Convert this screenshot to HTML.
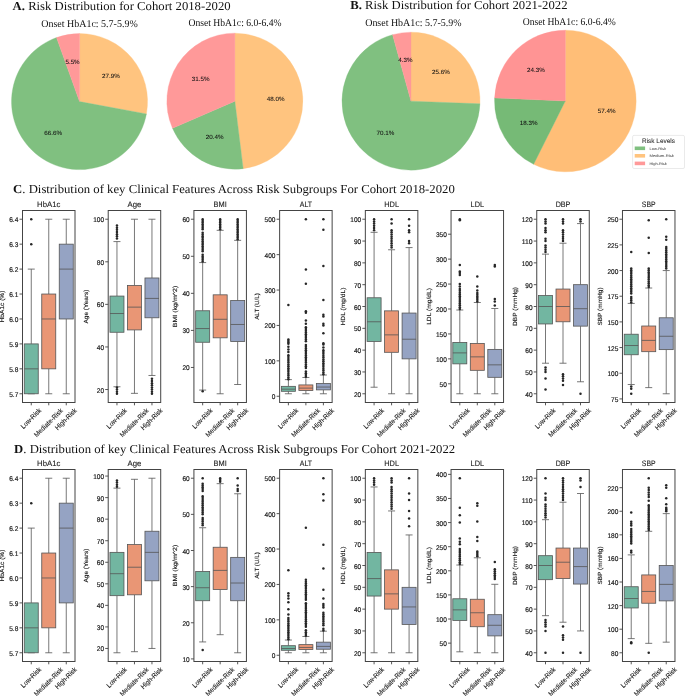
<!DOCTYPE html>
<html><head><meta charset="utf-8"><style>
html,body{margin:0;padding:0;background:#fff;width:685px;height:696px;overflow:hidden}
svg{display:block;will-change:transform}
text{font-family:"Liberation Sans",sans-serif;text-rendering:geometricPrecision}
</style></head><body>
<svg width="685" height="696" viewBox="0 0 685 696">
<rect width="685" height="696" fill="#fff"/>
<text x="12.6" y="9.9" style="font-family:&quot;Liberation Serif&quot;,serif" font-size="12.2" fill="#111" textLength="218.00" lengthAdjust="spacingAndGlyphs"><tspan font-weight="bold">A.</tspan> Risk Distribution for Cohort 2018-2020</text>
<text x="350.3" y="9.2" style="font-family:&quot;Liberation Serif&quot;,serif" font-size="12.2" fill="#111" textLength="217.20" lengthAdjust="spacingAndGlyphs"><tspan font-weight="bold">B.</tspan> Risk Distribution for Cohort 2021-2022</text>
<text x="13.1" y="192.7" style="font-family:&quot;Liberation Serif&quot;,serif" font-size="12.2" fill="#111" textLength="441.70" lengthAdjust="spacingAndGlyphs"><tspan font-weight="bold">C</tspan>. Distribution of key Clinical Features Across Risk Subgroups For Cohort 2018-2020</text>
<text x="14.1" y="453.3" style="font-family:&quot;Liberation Serif&quot;,serif" font-size="12.2" fill="#111" textLength="441.00" lengthAdjust="spacingAndGlyphs"><tspan font-weight="bold">D</tspan>. Distribution of key Clinical Features Across Risk Subgroups For Cohort 2021-2022</text>
<text x="41.3" y="26.5" style="font-family:&quot;Liberation Serif&quot;,serif" font-size="10.3" fill="#111" textLength="96.40" lengthAdjust="spacingAndGlyphs">Onset HbA1c: 5.7-5.9%</text>
<text x="188.5" y="26.3" style="font-family:&quot;Liberation Serif&quot;,serif" font-size="10.3" fill="#111" textLength="93.00" lengthAdjust="spacingAndGlyphs">Onset HbA1c: 6.0-6.4%</text>
<text x="365.2" y="25.6" style="font-family:&quot;Liberation Serif&quot;,serif" font-size="10.3" fill="#111" textLength="96.30" lengthAdjust="spacingAndGlyphs">Onset HbA1c: 5.7-5.9%</text>
<text x="522.7" y="24.6" style="font-family:&quot;Liberation Serif&quot;,serif" font-size="10.3" fill="#111" textLength="93.10" lengthAdjust="spacingAndGlyphs">Onset HbA1c: 6.0-6.4%</text>
<path d="M79.55,101.60 L79.55,33.60 A68.0,68.0 0 0 1 146.42,113.92 Z" fill="#ffc47f" stroke="#ffc47f" stroke-width="0.35" stroke-linejoin="round"/>
<text x="0" y="0" font-size="20.0" text-anchor="middle" fill="#111" stroke="#111" stroke-width="0.197" textLength="58.33" lengthAdjust="spacingAndGlyphs" transform="translate(110.91,77.89) scale(0.3050)" >27.9%</text>
<path d="M79.55,101.60 L146.42,113.92 A68.0,68.0 0 1 1 56.52,37.62 Z" fill="#80c080" stroke="#80c080" stroke-width="0.35" stroke-linejoin="round"/>
<text x="0" y="0" font-size="20.0" text-anchor="middle" fill="#111" stroke="#111" stroke-width="0.197" textLength="58.33" lengthAdjust="spacingAndGlyphs" transform="translate(53.15,135.11) scale(0.3050)" >66.6%</text>
<path d="M79.55,101.60 L56.52,37.62 A68.0,68.0 0 0 1 79.55,33.60 Z" fill="#ff9999" stroke="#ff9999" stroke-width="0.35" stroke-linejoin="round"/>
<text x="0" y="0" font-size="20.0" text-anchor="middle" fill="#111" stroke="#111" stroke-width="0.197" textLength="46.65" lengthAdjust="spacingAndGlyphs" transform="translate(72.54,63.81) scale(0.3050)" >5.5%</text>
<path d="M234.85,101.15 L234.85,33.15 A68.0,68.0 0 0 1 243.17,168.64 Z" fill="#ffc47f" stroke="#ffc47f" stroke-width="0.35" stroke-linejoin="round"/>
<text x="0" y="0" font-size="20.0" text-anchor="middle" fill="#111" stroke="#111" stroke-width="0.197" textLength="58.33" lengthAdjust="spacingAndGlyphs" transform="translate(275.57,100.65) scale(0.3050)" >48.0%</text>
<path d="M234.85,101.15 L243.17,168.64 A68.0,68.0 0 0 1 172.50,128.28 Z" fill="#80c080" stroke="#80c080" stroke-width="0.35" stroke-linejoin="round"/>
<text x="0" y="0" font-size="20.0" text-anchor="middle" fill="#111" stroke="#111" stroke-width="0.197" textLength="58.33" lengthAdjust="spacingAndGlyphs" transform="translate(214.62,138.58) scale(0.3050)" >20.4%</text>
<path d="M234.85,101.15 L172.50,128.28 A68.0,68.0 0 0 1 234.85,33.15 Z" fill="#ff9999" stroke="#ff9999" stroke-width="0.35" stroke-linejoin="round"/>
<text x="0" y="0" font-size="20.0" text-anchor="middle" fill="#111" stroke="#111" stroke-width="0.197" textLength="58.33" lengthAdjust="spacingAndGlyphs" transform="translate(200.73,80.78) scale(0.3050)" >31.5%</text>
<path d="M411.00,101.20 L411.00,32.20 A69.0,69.0 0 0 1 479.95,103.80 Z" fill="#ffc47f" stroke="#ffc47f" stroke-width="0.35" stroke-linejoin="round"/>
<text x="0" y="0" font-size="20.0" text-anchor="middle" fill="#111" stroke="#111" stroke-width="0.197" textLength="58.33" lengthAdjust="spacingAndGlyphs" transform="translate(440.82,74.28) scale(0.3050)" >25.6%</text>
<path d="M411.00,101.20 L479.95,103.80 A69.0,69.0 0 1 1 392.58,34.70 Z" fill="#80c080" stroke="#80c080" stroke-width="0.35" stroke-linejoin="round"/>
<text x="0" y="0" font-size="20.0" text-anchor="middle" fill="#111" stroke="#111" stroke-width="0.197" textLength="58.33" lengthAdjust="spacingAndGlyphs" transform="translate(385.32,135.47) scale(0.3050)" >70.1%</text>
<path d="M411.00,101.20 L392.58,34.70 A69.0,69.0 0 0 1 411.00,32.20 Z" fill="#ff9999" stroke="#ff9999" stroke-width="0.35" stroke-linejoin="round"/>
<text x="0" y="0" font-size="20.0" text-anchor="middle" fill="#111" stroke="#111" stroke-width="0.197" textLength="46.65" lengthAdjust="spacingAndGlyphs" transform="translate(405.42,61.98) scale(0.3050)" >4.3%</text>
<path d="M565.35,101.00 L565.35,30.20 A70.8,70.8 0 1 1 533.60,164.28 Z" fill="#ffbe77" stroke="#ffbe77" stroke-width="0.35" stroke-linejoin="round"/>
<text x="0" y="0" font-size="20.0" text-anchor="middle" fill="#111" stroke="#111" stroke-width="0.197" textLength="58.33" lengthAdjust="spacingAndGlyphs" transform="translate(606.69,112.79) scale(0.3050)" >57.4%</text>
<path d="M565.35,101.00 L533.60,164.28 A70.8,70.8 0 0 1 494.62,97.89 Z" fill="#76ba76" stroke="#76ba76" stroke-width="0.35" stroke-linejoin="round"/>
<text x="0" y="0" font-size="20.0" text-anchor="middle" fill="#111" stroke="#111" stroke-width="0.197" textLength="58.33" lengthAdjust="spacingAndGlyphs" transform="translate(528.72,124.51) scale(0.3050)" >18.3%</text>
<path d="M565.35,101.00 L494.62,97.89 A70.8,70.8 0 0 1 565.35,30.20 Z" fill="#ff9494" stroke="#ff9494" stroke-width="0.35" stroke-linejoin="round"/>
<text x="0" y="0" font-size="20.0" text-anchor="middle" fill="#111" stroke="#111" stroke-width="0.197" textLength="58.33" lengthAdjust="spacingAndGlyphs" transform="translate(535.98,72.31) scale(0.3050)" >24.3%</text>
<rect x="632.6" y="135.4" width="51.9" height="33.1" rx="1.5" fill="#fff" fill-opacity="0.8" stroke="#dcdcdc" stroke-width="0.6"/>
<text x="0" y="0" font-size="20.0" text-anchor="middle" fill="#222" stroke="#222" stroke-width="0.121" textLength="100.00" lengthAdjust="spacingAndGlyphs" transform="translate(658.50,142.80) scale(0.3300)" >Risk Levels</text>
<rect x="634.7" y="146.50" width="10.4" height="3.6" fill="#80c080"/>
<text x="0" y="0" font-size="20.0" text-anchor="start" fill="#333" stroke="#333" stroke-width="0.000" textLength="89.73" lengthAdjust="spacingAndGlyphs" transform="translate(649.40,149.60) scale(0.1850)" >Low-Risk</text>
<rect x="634.7" y="154.00" width="10.4" height="3.6" fill="#ffc47f"/>
<text x="0" y="0" font-size="20.0" text-anchor="start" fill="#333" stroke="#333" stroke-width="0.000" textLength="132.43" lengthAdjust="spacingAndGlyphs" transform="translate(649.40,157.10) scale(0.1850)" >Medium-Risk</text>
<rect x="634.7" y="161.60" width="10.4" height="3.6" fill="#ff9999"/>
<text x="0" y="0" font-size="20.0" text-anchor="start" fill="#333" stroke="#333" stroke-width="0.000" textLength="94.05" lengthAdjust="spacingAndGlyphs" transform="translate(649.40,164.70) scale(0.1850)" >High-Risk</text>
<g fill="#262626"><line x1="31.25" y1="343.90" x2="31.25" y2="269.10" stroke="#555555" stroke-width="0.8"/><line x1="31.25" y1="393.77" x2="31.25" y2="393.77" stroke="#555555" stroke-width="0.8"/><line x1="27.75" y1="269.10" x2="34.75" y2="269.10" stroke="#555555" stroke-width="0.8"/><line x1="27.75" y1="393.77" x2="34.75" y2="393.77" stroke="#555555" stroke-width="0.8"/><rect x="24.25" y="343.90" width="14.00" height="49.87" fill="#72b6a1" stroke="#555555" stroke-width="0.8"/><line x1="24.25" y1="368.84" x2="38.25" y2="368.84" stroke="#555555" stroke-width="0.8"/><circle cx="31.25" cy="244.16" r="1.25"/><circle cx="31.25" cy="219.23" r="1.25"/><line x1="48.75" y1="294.03" x2="48.75" y2="219.23" stroke="#555555" stroke-width="0.8"/><line x1="48.75" y1="368.84" x2="48.75" y2="393.77" stroke="#555555" stroke-width="0.8"/><line x1="45.25" y1="219.23" x2="52.25" y2="219.23" stroke="#555555" stroke-width="0.8"/><line x1="45.25" y1="393.77" x2="52.25" y2="393.77" stroke="#555555" stroke-width="0.8"/><rect x="41.75" y="294.03" width="14.00" height="74.81" fill="#e99675" stroke="#555555" stroke-width="0.8"/><line x1="41.75" y1="318.97" x2="55.75" y2="318.97" stroke="#555555" stroke-width="0.8"/><line x1="66.25" y1="244.16" x2="66.25" y2="219.23" stroke="#555555" stroke-width="0.8"/><line x1="66.25" y1="318.97" x2="66.25" y2="393.77" stroke="#555555" stroke-width="0.8"/><line x1="62.75" y1="219.23" x2="69.75" y2="219.23" stroke="#555555" stroke-width="0.8"/><line x1="62.75" y1="393.77" x2="69.75" y2="393.77" stroke="#555555" stroke-width="0.8"/><rect x="59.25" y="244.16" width="14.00" height="74.81" fill="#95a3c3" stroke="#555555" stroke-width="0.8"/><line x1="59.25" y1="269.10" x2="73.25" y2="269.10" stroke="#555555" stroke-width="0.8"/></g>
<rect x="22.50" y="210.50" width="52.50" height="192.00" fill="none" stroke="#444444" stroke-width="1.0"/>
<line x1="19.50" y1="393.77" x2="22.50" y2="393.77" stroke="#444444" stroke-width="0.9"/>
<text x="0" y="0" font-size="20.0" text-anchor="end" fill="#1a1a1a" stroke="#1a1a1a" stroke-width="0.522" textLength="26.28" lengthAdjust="spacingAndGlyphs" transform="translate(18.30,396.77) scale(0.3450)" >5.7</text>
<line x1="19.50" y1="368.84" x2="22.50" y2="368.84" stroke="#444444" stroke-width="0.9"/>
<text x="0" y="0" font-size="20.0" text-anchor="end" fill="#1a1a1a" stroke="#1a1a1a" stroke-width="0.522" textLength="26.28" lengthAdjust="spacingAndGlyphs" transform="translate(18.30,371.84) scale(0.3450)" >5.8</text>
<line x1="19.50" y1="343.90" x2="22.50" y2="343.90" stroke="#444444" stroke-width="0.9"/>
<text x="0" y="0" font-size="20.0" text-anchor="end" fill="#1a1a1a" stroke="#1a1a1a" stroke-width="0.522" textLength="26.28" lengthAdjust="spacingAndGlyphs" transform="translate(18.30,346.90) scale(0.3450)" >5.9</text>
<line x1="19.50" y1="318.97" x2="22.50" y2="318.97" stroke="#444444" stroke-width="0.9"/>
<text x="0" y="0" font-size="20.0" text-anchor="end" fill="#1a1a1a" stroke="#1a1a1a" stroke-width="0.522" textLength="26.28" lengthAdjust="spacingAndGlyphs" transform="translate(18.30,321.97) scale(0.3450)" >6.0</text>
<line x1="19.50" y1="294.03" x2="22.50" y2="294.03" stroke="#444444" stroke-width="0.9"/>
<text x="0" y="0" font-size="20.0" text-anchor="end" fill="#1a1a1a" stroke="#1a1a1a" stroke-width="0.522" textLength="26.28" lengthAdjust="spacingAndGlyphs" transform="translate(18.30,297.03) scale(0.3450)" >6.1</text>
<line x1="19.50" y1="269.10" x2="22.50" y2="269.10" stroke="#444444" stroke-width="0.9"/>
<text x="0" y="0" font-size="20.0" text-anchor="end" fill="#1a1a1a" stroke="#1a1a1a" stroke-width="0.522" textLength="26.28" lengthAdjust="spacingAndGlyphs" transform="translate(18.30,272.10) scale(0.3450)" >6.2</text>
<line x1="19.50" y1="244.16" x2="22.50" y2="244.16" stroke="#444444" stroke-width="0.9"/>
<text x="0" y="0" font-size="20.0" text-anchor="end" fill="#1a1a1a" stroke="#1a1a1a" stroke-width="0.522" textLength="26.28" lengthAdjust="spacingAndGlyphs" transform="translate(18.30,247.16) scale(0.3450)" >6.3</text>
<line x1="19.50" y1="219.23" x2="22.50" y2="219.23" stroke="#444444" stroke-width="0.9"/>
<text x="0" y="0" font-size="20.0" text-anchor="end" fill="#1a1a1a" stroke="#1a1a1a" stroke-width="0.522" textLength="26.28" lengthAdjust="spacingAndGlyphs" transform="translate(18.30,222.23) scale(0.3450)" >6.4</text>
<line x1="31.25" y1="402.50" x2="31.25" y2="405.30" stroke="#444444" stroke-width="0.9"/>
<text x="0" y="0" font-size="20.0" text-anchor="end" fill="#1a1a1a" stroke="#1a1a1a" stroke-width="0.353" textLength="75.11" lengthAdjust="spacingAndGlyphs" transform="translate(41.58,411.10) rotate(-45) scale(0.3400)" >Low-Risk</text>
<line x1="48.75" y1="402.50" x2="48.75" y2="405.30" stroke="#444444" stroke-width="0.9"/>
<text x="0" y="0" font-size="20.0" text-anchor="end" fill="#1a1a1a" stroke="#1a1a1a" stroke-width="0.353" textLength="109.93" lengthAdjust="spacingAndGlyphs" transform="translate(63.26,411.10) rotate(-45) scale(0.3400)" >Mediate-Risk</text>
<line x1="66.25" y1="402.50" x2="66.25" y2="405.30" stroke="#444444" stroke-width="0.9"/>
<text x="0" y="0" font-size="20.0" text-anchor="end" fill="#1a1a1a" stroke="#1a1a1a" stroke-width="0.353" textLength="80.72" lengthAdjust="spacingAndGlyphs" transform="translate(77.25,411.10) rotate(-45) scale(0.3400)" >High-Risk</text>
<text x="0" y="0" font-size="20.0" text-anchor="middle" fill="#1a1a1a" stroke="#1a1a1a" stroke-width="0.256" textLength="59.71" lengthAdjust="spacingAndGlyphs" transform="translate(48.75,207.10) scale(0.3900)" >HbA1c</text>
<text x="0" y="0" font-size="20.0" text-anchor="middle" fill="#1a1a1a" stroke="#1a1a1a" stroke-width="0.467" textLength="106.10" lengthAdjust="spacingAndGlyphs" transform="translate(4.14,306.50) rotate(-90) scale(0.3000)" >HbA1c (%)</text>
<g fill="#262626"><line x1="116.96" y1="296.07" x2="116.96" y2="241.58" stroke="#555555" stroke-width="0.8"/><line x1="116.96" y1="332.26" x2="116.96" y2="386.75" stroke="#555555" stroke-width="0.8"/><line x1="113.46" y1="241.58" x2="120.46" y2="241.58" stroke="#555555" stroke-width="0.8"/><line x1="113.46" y1="386.75" x2="120.46" y2="386.75" stroke="#555555" stroke-width="0.8"/><rect x="109.96" y="296.07" width="14.00" height="36.19" fill="#72b6a1" stroke="#555555" stroke-width="0.8"/><line x1="109.96" y1="313.52" x2="123.96" y2="313.52" stroke="#555555" stroke-width="0.8"/><circle cx="116.96" cy="238.38" r="1.25"/><circle cx="116.96" cy="236.26" r="1.25"/><circle cx="116.96" cy="234.13" r="1.25"/><circle cx="116.96" cy="232.00" r="1.25"/><circle cx="116.96" cy="229.87" r="1.25"/><circle cx="116.96" cy="227.74" r="1.25"/><circle cx="116.96" cy="225.61" r="1.25"/><circle cx="116.96" cy="393.77" r="1.25"/><circle cx="116.96" cy="391.64" r="1.25"/><circle cx="116.96" cy="389.52" r="1.25"/><circle cx="116.96" cy="387.39" r="1.25"/><line x1="134.46" y1="285.43" x2="134.46" y2="219.23" stroke="#555555" stroke-width="0.8"/><line x1="134.46" y1="329.91" x2="134.46" y2="393.35" stroke="#555555" stroke-width="0.8"/><line x1="130.96" y1="219.23" x2="137.96" y2="219.23" stroke="#555555" stroke-width="0.8"/><line x1="130.96" y1="393.35" x2="137.96" y2="393.35" stroke="#555555" stroke-width="0.8"/><rect x="127.46" y="285.43" width="14.00" height="44.49" fill="#e99675" stroke="#555555" stroke-width="0.8"/><line x1="127.46" y1="307.14" x2="141.46" y2="307.14" stroke="#555555" stroke-width="0.8"/><line x1="151.96" y1="277.98" x2="151.96" y2="219.23" stroke="#555555" stroke-width="0.8"/><line x1="151.96" y1="317.78" x2="151.96" y2="375.47" stroke="#555555" stroke-width="0.8"/><line x1="148.46" y1="219.23" x2="155.46" y2="219.23" stroke="#555555" stroke-width="0.8"/><line x1="148.46" y1="375.47" x2="155.46" y2="375.47" stroke="#555555" stroke-width="0.8"/><rect x="144.96" y="277.98" width="14.00" height="39.80" fill="#95a3c3" stroke="#555555" stroke-width="0.8"/><line x1="144.96" y1="298.41" x2="158.96" y2="298.41" stroke="#555555" stroke-width="0.8"/><circle cx="151.96" cy="393.77" r="1.25"/><circle cx="151.96" cy="391.64" r="1.25"/><circle cx="151.96" cy="389.52" r="1.25"/><circle cx="151.96" cy="387.39" r="1.25"/><circle cx="151.96" cy="385.26" r="1.25"/><circle cx="151.96" cy="383.13" r="1.25"/><circle cx="151.96" cy="381.00" r="1.25"/><circle cx="151.96" cy="378.87" r="1.25"/></g>
<rect x="108.21" y="210.50" width="52.50" height="192.00" fill="none" stroke="#444444" stroke-width="1.0"/>
<line x1="105.21" y1="389.52" x2="108.21" y2="389.52" stroke="#444444" stroke-width="0.9"/>
<text x="0" y="0" font-size="20.0" text-anchor="end" fill="#1a1a1a" stroke="#1a1a1a" stroke-width="0.522" textLength="21.02" lengthAdjust="spacingAndGlyphs" transform="translate(104.01,392.52) scale(0.3450)" >20</text>
<line x1="105.21" y1="346.94" x2="108.21" y2="346.94" stroke="#444444" stroke-width="0.9"/>
<text x="0" y="0" font-size="20.0" text-anchor="end" fill="#1a1a1a" stroke="#1a1a1a" stroke-width="0.522" textLength="21.02" lengthAdjust="spacingAndGlyphs" transform="translate(104.01,349.94) scale(0.3450)" >40</text>
<line x1="105.21" y1="304.37" x2="108.21" y2="304.37" stroke="#444444" stroke-width="0.9"/>
<text x="0" y="0" font-size="20.0" text-anchor="end" fill="#1a1a1a" stroke="#1a1a1a" stroke-width="0.522" textLength="21.02" lengthAdjust="spacingAndGlyphs" transform="translate(104.01,307.37) scale(0.3450)" >60</text>
<line x1="105.21" y1="261.80" x2="108.21" y2="261.80" stroke="#444444" stroke-width="0.9"/>
<text x="0" y="0" font-size="20.0" text-anchor="end" fill="#1a1a1a" stroke="#1a1a1a" stroke-width="0.522" textLength="21.02" lengthAdjust="spacingAndGlyphs" transform="translate(104.01,264.80) scale(0.3450)" >80</text>
<line x1="105.21" y1="219.23" x2="108.21" y2="219.23" stroke="#444444" stroke-width="0.9"/>
<text x="0" y="0" font-size="20.0" text-anchor="end" fill="#1a1a1a" stroke="#1a1a1a" stroke-width="0.522" textLength="31.54" lengthAdjust="spacingAndGlyphs" transform="translate(104.01,222.23) scale(0.3450)" >100</text>
<line x1="116.96" y1="402.50" x2="116.96" y2="405.30" stroke="#444444" stroke-width="0.9"/>
<text x="0" y="0" font-size="20.0" text-anchor="end" fill="#1a1a1a" stroke="#1a1a1a" stroke-width="0.353" textLength="75.11" lengthAdjust="spacingAndGlyphs" transform="translate(127.29,411.10) rotate(-45) scale(0.3400)" >Low-Risk</text>
<line x1="134.46" y1="402.50" x2="134.46" y2="405.30" stroke="#444444" stroke-width="0.9"/>
<text x="0" y="0" font-size="20.0" text-anchor="end" fill="#1a1a1a" stroke="#1a1a1a" stroke-width="0.353" textLength="109.93" lengthAdjust="spacingAndGlyphs" transform="translate(148.97,411.10) rotate(-45) scale(0.3400)" >Mediate-Risk</text>
<line x1="151.96" y1="402.50" x2="151.96" y2="405.30" stroke="#444444" stroke-width="0.9"/>
<text x="0" y="0" font-size="20.0" text-anchor="end" fill="#1a1a1a" stroke="#1a1a1a" stroke-width="0.353" textLength="80.72" lengthAdjust="spacingAndGlyphs" transform="translate(162.96,411.10) rotate(-45) scale(0.3400)" >High-Risk</text>
<text x="0" y="0" font-size="20.0" text-anchor="middle" fill="#1a1a1a" stroke="#1a1a1a" stroke-width="0.256" textLength="35.46" lengthAdjust="spacingAndGlyphs" transform="translate(134.46,207.10) scale(0.3900)" >Age</text>
<text x="0" y="0" font-size="20.0" text-anchor="middle" fill="#1a1a1a" stroke="#1a1a1a" stroke-width="0.467" textLength="113.41" lengthAdjust="spacingAndGlyphs" transform="translate(88.03,306.50) rotate(-90) scale(0.3000)" >Age (Years)</text>
<g fill="#262626"><line x1="202.67" y1="310.76" x2="202.67" y2="262.59" stroke="#555555" stroke-width="0.8"/><line x1="202.67" y1="342.26" x2="202.67" y2="390.07" stroke="#555555" stroke-width="0.8"/><line x1="199.17" y1="262.59" x2="206.17" y2="262.59" stroke="#555555" stroke-width="0.8"/><line x1="199.17" y1="390.07" x2="206.17" y2="390.07" stroke="#555555" stroke-width="0.8"/><rect x="195.67" y="310.76" width="14.00" height="31.50" fill="#72b6a1" stroke="#555555" stroke-width="0.8"/><line x1="195.67" y1="328.55" x2="209.67" y2="328.55" stroke="#555555" stroke-width="0.8"/><circle cx="202.67" cy="261.47" r="1.25"/><circle cx="202.67" cy="259.78" r="1.25"/><circle cx="202.67" cy="258.09" r="1.25"/><circle cx="202.67" cy="256.40" r="1.25"/><circle cx="202.67" cy="254.71" r="1.25"/><circle cx="202.67" cy="251.33" r="1.25"/><circle cx="202.67" cy="249.64" r="1.25"/><circle cx="202.67" cy="247.96" r="1.25"/><circle cx="202.67" cy="246.27" r="1.25"/><circle cx="202.67" cy="244.58" r="1.25"/><circle cx="202.67" cy="242.89" r="1.25"/><circle cx="202.67" cy="241.20" r="1.25"/><circle cx="202.67" cy="239.51" r="1.25"/><circle cx="202.67" cy="237.82" r="1.25"/><circle cx="202.67" cy="236.13" r="1.25"/><circle cx="202.67" cy="234.44" r="1.25"/><circle cx="202.67" cy="232.75" r="1.25"/><circle cx="202.67" cy="229.37" r="1.25"/><circle cx="202.67" cy="227.68" r="1.25"/><circle cx="202.67" cy="225.99" r="1.25"/><circle cx="202.67" cy="224.30" r="1.25"/><circle cx="202.67" cy="222.61" r="1.25"/><circle cx="202.67" cy="220.92" r="1.25"/><circle cx="202.67" cy="219.23" r="1.25"/><circle cx="202.67" cy="391.18" r="1.25"/><line x1="220.17" y1="294.83" x2="220.17" y2="230.34" stroke="#555555" stroke-width="0.8"/><line x1="220.17" y1="337.81" x2="220.17" y2="393.77" stroke="#555555" stroke-width="0.8"/><line x1="216.67" y1="230.34" x2="223.67" y2="230.34" stroke="#555555" stroke-width="0.8"/><line x1="216.67" y1="393.77" x2="223.67" y2="393.77" stroke="#555555" stroke-width="0.8"/><rect x="213.17" y="294.83" width="14.00" height="42.99" fill="#e99675" stroke="#555555" stroke-width="0.8"/><line x1="213.17" y1="319.29" x2="227.17" y2="319.29" stroke="#555555" stroke-width="0.8"/><circle cx="220.17" cy="229.23" r="1.25"/><circle cx="220.17" cy="227.57" r="1.25"/><circle cx="220.17" cy="225.90" r="1.25"/><circle cx="220.17" cy="224.23" r="1.25"/><circle cx="220.17" cy="222.56" r="1.25"/><circle cx="220.17" cy="220.89" r="1.25"/><circle cx="220.17" cy="219.23" r="1.25"/><line x1="237.67" y1="300.57" x2="237.67" y2="240.35" stroke="#555555" stroke-width="0.8"/><line x1="237.67" y1="341.52" x2="237.67" y2="384.51" stroke="#555555" stroke-width="0.8"/><line x1="234.17" y1="240.35" x2="241.17" y2="240.35" stroke="#555555" stroke-width="0.8"/><line x1="234.17" y1="384.51" x2="241.17" y2="384.51" stroke="#555555" stroke-width="0.8"/><rect x="230.67" y="300.57" width="14.00" height="40.95" fill="#95a3c3" stroke="#555555" stroke-width="0.8"/><line x1="230.67" y1="324.47" x2="244.67" y2="324.47" stroke="#555555" stroke-width="0.8"/><circle cx="237.67" cy="239.24" r="1.25"/><circle cx="237.67" cy="237.57" r="1.25"/><circle cx="237.67" cy="235.90" r="1.25"/><circle cx="237.67" cy="234.24" r="1.25"/><circle cx="237.67" cy="232.57" r="1.25"/><circle cx="237.67" cy="230.90" r="1.25"/><circle cx="237.67" cy="229.23" r="1.25"/><circle cx="237.67" cy="227.57" r="1.25"/><circle cx="237.67" cy="225.90" r="1.25"/><circle cx="237.67" cy="224.23" r="1.25"/><circle cx="237.67" cy="222.56" r="1.25"/><circle cx="237.67" cy="220.89" r="1.25"/><circle cx="237.67" cy="219.23" r="1.25"/></g>
<rect x="193.92" y="210.50" width="52.50" height="192.00" fill="none" stroke="#444444" stroke-width="1.0"/>
<line x1="190.92" y1="367.46" x2="193.92" y2="367.46" stroke="#444444" stroke-width="0.9"/>
<text x="0" y="0" font-size="20.0" text-anchor="end" fill="#1a1a1a" stroke="#1a1a1a" stroke-width="0.522" textLength="21.02" lengthAdjust="spacingAndGlyphs" transform="translate(189.72,370.46) scale(0.3450)" >20</text>
<line x1="190.92" y1="330.40" x2="193.92" y2="330.40" stroke="#444444" stroke-width="0.9"/>
<text x="0" y="0" font-size="20.0" text-anchor="end" fill="#1a1a1a" stroke="#1a1a1a" stroke-width="0.522" textLength="21.02" lengthAdjust="spacingAndGlyphs" transform="translate(189.72,333.40) scale(0.3450)" >30</text>
<line x1="190.92" y1="293.34" x2="193.92" y2="293.34" stroke="#444444" stroke-width="0.9"/>
<text x="0" y="0" font-size="20.0" text-anchor="end" fill="#1a1a1a" stroke="#1a1a1a" stroke-width="0.522" textLength="21.02" lengthAdjust="spacingAndGlyphs" transform="translate(189.72,296.34) scale(0.3450)" >40</text>
<line x1="190.92" y1="256.29" x2="193.92" y2="256.29" stroke="#444444" stroke-width="0.9"/>
<text x="0" y="0" font-size="20.0" text-anchor="end" fill="#1a1a1a" stroke="#1a1a1a" stroke-width="0.522" textLength="21.02" lengthAdjust="spacingAndGlyphs" transform="translate(189.72,259.29) scale(0.3450)" >50</text>
<line x1="190.92" y1="219.23" x2="193.92" y2="219.23" stroke="#444444" stroke-width="0.9"/>
<text x="0" y="0" font-size="20.0" text-anchor="end" fill="#1a1a1a" stroke="#1a1a1a" stroke-width="0.522" textLength="21.02" lengthAdjust="spacingAndGlyphs" transform="translate(189.72,222.23) scale(0.3450)" >60</text>
<line x1="202.67" y1="402.50" x2="202.67" y2="405.30" stroke="#444444" stroke-width="0.9"/>
<text x="0" y="0" font-size="20.0" text-anchor="end" fill="#1a1a1a" stroke="#1a1a1a" stroke-width="0.353" textLength="75.11" lengthAdjust="spacingAndGlyphs" transform="translate(213.00,411.10) rotate(-45) scale(0.3400)" >Low-Risk</text>
<line x1="220.17" y1="402.50" x2="220.17" y2="405.30" stroke="#444444" stroke-width="0.9"/>
<text x="0" y="0" font-size="20.0" text-anchor="end" fill="#1a1a1a" stroke="#1a1a1a" stroke-width="0.353" textLength="109.93" lengthAdjust="spacingAndGlyphs" transform="translate(234.68,411.10) rotate(-45) scale(0.3400)" >Mediate-Risk</text>
<line x1="237.67" y1="402.50" x2="237.67" y2="405.30" stroke="#444444" stroke-width="0.9"/>
<text x="0" y="0" font-size="20.0" text-anchor="end" fill="#1a1a1a" stroke="#1a1a1a" stroke-width="0.353" textLength="80.72" lengthAdjust="spacingAndGlyphs" transform="translate(248.67,411.10) rotate(-45) scale(0.3400)" >High-Risk</text>
<text x="0" y="0" font-size="20.0" text-anchor="middle" fill="#1a1a1a" stroke="#1a1a1a" stroke-width="0.256" textLength="33.80" lengthAdjust="spacingAndGlyphs" transform="translate(220.17,207.10) scale(0.3900)" >BMI</text>
<text x="0" y="0" font-size="20.0" text-anchor="middle" fill="#1a1a1a" stroke="#1a1a1a" stroke-width="0.467" textLength="138.82" lengthAdjust="spacingAndGlyphs" transform="translate(177.37,306.50) rotate(-90) scale(0.3000)" >BMI (kg/m^2)</text>
<g fill="#262626"><line x1="288.38" y1="386.34" x2="288.38" y2="379.61" stroke="#555555" stroke-width="0.8"/><line x1="288.38" y1="391.29" x2="288.38" y2="393.77" stroke="#555555" stroke-width="0.8"/><line x1="284.88" y1="379.61" x2="291.88" y2="379.61" stroke="#555555" stroke-width="0.8"/><line x1="284.88" y1="393.77" x2="291.88" y2="393.77" stroke="#555555" stroke-width="0.8"/><rect x="281.38" y="386.34" width="14.00" height="4.96" fill="#72b6a1" stroke="#555555" stroke-width="0.8"/><line x1="281.38" y1="389.17" x2="295.38" y2="389.17" stroke="#555555" stroke-width="0.8"/><circle cx="288.38" cy="379.26" r="1.25"/><circle cx="288.38" cy="377.40" r="1.25"/><circle cx="288.38" cy="375.55" r="1.25"/><circle cx="288.38" cy="373.70" r="1.25"/><circle cx="288.38" cy="371.85" r="1.25"/><circle cx="288.38" cy="370.00" r="1.25"/><circle cx="288.38" cy="368.15" r="1.25"/><circle cx="288.38" cy="366.29" r="1.25"/><circle cx="288.38" cy="364.44" r="1.25"/><circle cx="288.38" cy="362.59" r="1.25"/><circle cx="288.38" cy="360.74" r="1.25"/><circle cx="288.38" cy="358.89" r="1.25"/><circle cx="288.38" cy="357.03" r="1.25"/><circle cx="288.38" cy="355.18" r="1.25"/><circle cx="288.38" cy="352.00" r="1.25"/><circle cx="288.38" cy="349.52" r="1.25"/><circle cx="288.38" cy="346.68" r="1.25"/><circle cx="288.38" cy="343.85" r="1.25"/><circle cx="288.38" cy="342.44" r="1.25"/><circle cx="288.38" cy="341.02" r="1.25"/><circle cx="288.38" cy="339.60" r="1.25"/><circle cx="288.38" cy="304.91" r="1.25"/><line x1="305.88" y1="384.92" x2="305.88" y2="377.49" stroke="#555555" stroke-width="0.8"/><line x1="305.88" y1="390.59" x2="305.88" y2="393.77" stroke="#555555" stroke-width="0.8"/><line x1="302.38" y1="377.49" x2="309.38" y2="377.49" stroke="#555555" stroke-width="0.8"/><line x1="302.38" y1="393.77" x2="309.38" y2="393.77" stroke="#555555" stroke-width="0.8"/><rect x="298.88" y="384.92" width="14.00" height="5.66" fill="#e99675" stroke="#555555" stroke-width="0.8"/><line x1="298.88" y1="388.11" x2="312.88" y2="388.11" stroke="#555555" stroke-width="0.8"/><circle cx="305.88" cy="376.78" r="1.25"/><circle cx="305.88" cy="375.01" r="1.25"/><circle cx="305.88" cy="373.24" r="1.25"/><circle cx="305.88" cy="371.47" r="1.25"/><circle cx="305.88" cy="367.93" r="1.25"/><circle cx="305.88" cy="366.16" r="1.25"/><circle cx="305.88" cy="364.39" r="1.25"/><circle cx="305.88" cy="362.62" r="1.25"/><circle cx="305.88" cy="360.85" r="1.25"/><circle cx="305.88" cy="359.08" r="1.25"/><circle cx="305.88" cy="357.31" r="1.25"/><circle cx="305.88" cy="355.54" r="1.25"/><circle cx="305.88" cy="353.77" r="1.25"/><circle cx="305.88" cy="352.00" r="1.25"/><circle cx="305.88" cy="350.22" r="1.25"/><circle cx="305.88" cy="348.45" r="1.25"/><circle cx="305.88" cy="346.68" r="1.25"/><circle cx="305.88" cy="344.91" r="1.25"/><circle cx="305.88" cy="341.37" r="1.25"/><circle cx="305.88" cy="339.60" r="1.25"/><circle cx="305.88" cy="337.83" r="1.25"/><circle cx="305.88" cy="336.06" r="1.25"/><circle cx="305.88" cy="334.29" r="1.25"/><circle cx="305.88" cy="332.52" r="1.25"/><circle cx="305.88" cy="330.75" r="1.25"/><circle cx="305.88" cy="328.98" r="1.25"/><circle cx="305.88" cy="327.21" r="1.25"/><circle cx="305.88" cy="323.67" r="1.25"/><circle cx="305.88" cy="320.48" r="1.25"/><circle cx="305.88" cy="312.70" r="1.25"/><circle cx="305.88" cy="311.28" r="1.25"/><circle cx="305.88" cy="283.66" r="1.25"/><circle cx="305.88" cy="269.50" r="1.25"/><circle cx="305.88" cy="219.23" r="1.25"/><line x1="323.38" y1="383.51" x2="323.38" y2="375.01" stroke="#555555" stroke-width="0.8"/><line x1="323.38" y1="389.88" x2="323.38" y2="393.77" stroke="#555555" stroke-width="0.8"/><line x1="319.88" y1="375.01" x2="326.88" y2="375.01" stroke="#555555" stroke-width="0.8"/><line x1="319.88" y1="393.77" x2="326.88" y2="393.77" stroke="#555555" stroke-width="0.8"/><rect x="316.38" y="383.51" width="14.00" height="6.37" fill="#95a3c3" stroke="#555555" stroke-width="0.8"/><line x1="316.38" y1="387.05" x2="330.38" y2="387.05" stroke="#555555" stroke-width="0.8"/><circle cx="323.38" cy="374.30" r="1.25"/><circle cx="323.38" cy="372.44" r="1.25"/><circle cx="323.38" cy="370.58" r="1.25"/><circle cx="323.38" cy="368.72" r="1.25"/><circle cx="323.38" cy="366.87" r="1.25"/><circle cx="323.38" cy="365.01" r="1.25"/><circle cx="323.38" cy="363.15" r="1.25"/><circle cx="323.38" cy="361.29" r="1.25"/><circle cx="323.38" cy="359.43" r="1.25"/><circle cx="323.38" cy="357.57" r="1.25"/><circle cx="323.38" cy="355.71" r="1.25"/><circle cx="323.38" cy="353.85" r="1.25"/><circle cx="323.38" cy="352.00" r="1.25"/><circle cx="323.38" cy="350.22" r="1.25"/><circle cx="323.38" cy="347.39" r="1.25"/><circle cx="323.38" cy="344.56" r="1.25"/><circle cx="323.38" cy="343.14" r="1.25"/><circle cx="323.38" cy="333.23" r="1.25"/><circle cx="323.38" cy="325.44" r="1.25"/><circle cx="323.38" cy="323.67" r="1.25"/><circle cx="323.38" cy="316.59" r="1.25"/><circle cx="323.38" cy="314.82" r="1.25"/><circle cx="323.38" cy="299.95" r="1.25"/><circle cx="323.38" cy="265.96" r="1.25"/><circle cx="323.38" cy="229.85" r="1.25"/><circle cx="323.38" cy="219.23" r="1.25"/></g>
<rect x="279.63" y="210.50" width="52.50" height="192.00" fill="none" stroke="#444444" stroke-width="1.0"/>
<line x1="276.63" y1="396.25" x2="279.63" y2="396.25" stroke="#444444" stroke-width="0.9"/>
<text x="0" y="0" font-size="20.0" text-anchor="end" fill="#1a1a1a" stroke="#1a1a1a" stroke-width="0.522" textLength="10.51" lengthAdjust="spacingAndGlyphs" transform="translate(275.43,399.25) scale(0.3450)" >0</text>
<line x1="276.63" y1="360.85" x2="279.63" y2="360.85" stroke="#444444" stroke-width="0.9"/>
<text x="0" y="0" font-size="20.0" text-anchor="end" fill="#1a1a1a" stroke="#1a1a1a" stroke-width="0.522" textLength="31.54" lengthAdjust="spacingAndGlyphs" transform="translate(275.43,363.85) scale(0.3450)" >100</text>
<line x1="276.63" y1="325.44" x2="279.63" y2="325.44" stroke="#444444" stroke-width="0.9"/>
<text x="0" y="0" font-size="20.0" text-anchor="end" fill="#1a1a1a" stroke="#1a1a1a" stroke-width="0.522" textLength="31.54" lengthAdjust="spacingAndGlyphs" transform="translate(275.43,328.44) scale(0.3450)" >200</text>
<line x1="276.63" y1="290.04" x2="279.63" y2="290.04" stroke="#444444" stroke-width="0.9"/>
<text x="0" y="0" font-size="20.0" text-anchor="end" fill="#1a1a1a" stroke="#1a1a1a" stroke-width="0.522" textLength="31.54" lengthAdjust="spacingAndGlyphs" transform="translate(275.43,293.04) scale(0.3450)" >300</text>
<line x1="276.63" y1="254.63" x2="279.63" y2="254.63" stroke="#444444" stroke-width="0.9"/>
<text x="0" y="0" font-size="20.0" text-anchor="end" fill="#1a1a1a" stroke="#1a1a1a" stroke-width="0.522" textLength="31.54" lengthAdjust="spacingAndGlyphs" transform="translate(275.43,257.63) scale(0.3450)" >400</text>
<line x1="276.63" y1="219.23" x2="279.63" y2="219.23" stroke="#444444" stroke-width="0.9"/>
<text x="0" y="0" font-size="20.0" text-anchor="end" fill="#1a1a1a" stroke="#1a1a1a" stroke-width="0.522" textLength="31.54" lengthAdjust="spacingAndGlyphs" transform="translate(275.43,222.23) scale(0.3450)" >500</text>
<line x1="288.38" y1="402.50" x2="288.38" y2="405.30" stroke="#444444" stroke-width="0.9"/>
<text x="0" y="0" font-size="20.0" text-anchor="end" fill="#1a1a1a" stroke="#1a1a1a" stroke-width="0.353" textLength="75.11" lengthAdjust="spacingAndGlyphs" transform="translate(298.71,411.10) rotate(-45) scale(0.3400)" >Low-Risk</text>
<line x1="305.88" y1="402.50" x2="305.88" y2="405.30" stroke="#444444" stroke-width="0.9"/>
<text x="0" y="0" font-size="20.0" text-anchor="end" fill="#1a1a1a" stroke="#1a1a1a" stroke-width="0.353" textLength="109.93" lengthAdjust="spacingAndGlyphs" transform="translate(320.39,411.10) rotate(-45) scale(0.3400)" >Mediate-Risk</text>
<line x1="323.38" y1="402.50" x2="323.38" y2="405.30" stroke="#444444" stroke-width="0.9"/>
<text x="0" y="0" font-size="20.0" text-anchor="end" fill="#1a1a1a" stroke="#1a1a1a" stroke-width="0.353" textLength="80.72" lengthAdjust="spacingAndGlyphs" transform="translate(334.38,411.10) rotate(-45) scale(0.3400)" >High-Risk</text>
<text x="0" y="0" font-size="20.0" text-anchor="middle" fill="#1a1a1a" stroke="#1a1a1a" stroke-width="0.256" textLength="31.43" lengthAdjust="spacingAndGlyphs" transform="translate(305.88,207.10) scale(0.3900)" >ALT</text>
<text x="0" y="0" font-size="20.0" text-anchor="middle" fill="#1a1a1a" stroke="#1a1a1a" stroke-width="0.467" textLength="88.77" lengthAdjust="spacingAndGlyphs" transform="translate(259.45,306.50) rotate(-90) scale(0.3000)" >ALT (U/L)</text>
<g fill="#262626"><line x1="374.09" y1="297.77" x2="374.09" y2="232.32" stroke="#555555" stroke-width="0.8"/><line x1="374.09" y1="341.41" x2="374.09" y2="387.23" stroke="#555555" stroke-width="0.8"/><line x1="370.59" y1="232.32" x2="377.59" y2="232.32" stroke="#555555" stroke-width="0.8"/><line x1="370.59" y1="387.23" x2="377.59" y2="387.23" stroke="#555555" stroke-width="0.8"/><rect x="367.09" y="297.77" width="14.00" height="43.64" fill="#72b6a1" stroke="#555555" stroke-width="0.8"/><line x1="367.09" y1="321.77" x2="381.09" y2="321.77" stroke="#555555" stroke-width="0.8"/><circle cx="374.09" cy="230.14" r="1.25"/><circle cx="374.09" cy="227.95" r="1.25"/><circle cx="374.09" cy="225.77" r="1.25"/><circle cx="374.09" cy="223.59" r="1.25"/><circle cx="374.09" cy="221.41" r="1.25"/><circle cx="374.09" cy="219.23" r="1.25"/><line x1="391.59" y1="310.86" x2="391.59" y2="249.77" stroke="#555555" stroke-width="0.8"/><line x1="391.59" y1="352.32" x2="391.59" y2="393.77" stroke="#555555" stroke-width="0.8"/><line x1="388.09" y1="249.77" x2="395.09" y2="249.77" stroke="#555555" stroke-width="0.8"/><line x1="388.09" y1="393.77" x2="395.09" y2="393.77" stroke="#555555" stroke-width="0.8"/><rect x="384.59" y="310.86" width="14.00" height="41.45" fill="#e99675" stroke="#555555" stroke-width="0.8"/><line x1="384.59" y1="334.86" x2="398.59" y2="334.86" stroke="#555555" stroke-width="0.8"/><circle cx="391.59" cy="247.59" r="1.25"/><circle cx="391.59" cy="245.41" r="1.25"/><circle cx="391.59" cy="243.23" r="1.25"/><circle cx="391.59" cy="241.05" r="1.25"/><circle cx="391.59" cy="238.86" r="1.25"/><circle cx="391.59" cy="236.68" r="1.25"/><circle cx="391.59" cy="234.50" r="1.25"/><circle cx="391.59" cy="232.32" r="1.25"/><circle cx="391.59" cy="230.14" r="1.25"/><circle cx="391.59" cy="223.59" r="1.25"/><circle cx="391.59" cy="219.23" r="1.25"/><line x1="409.09" y1="313.05" x2="409.09" y2="247.59" stroke="#555555" stroke-width="0.8"/><line x1="409.09" y1="358.86" x2="409.09" y2="393.77" stroke="#555555" stroke-width="0.8"/><line x1="405.59" y1="247.59" x2="412.59" y2="247.59" stroke="#555555" stroke-width="0.8"/><line x1="405.59" y1="393.77" x2="412.59" y2="393.77" stroke="#555555" stroke-width="0.8"/><rect x="402.09" y="313.05" width="14.00" height="45.82" fill="#95a3c3" stroke="#555555" stroke-width="0.8"/><line x1="402.09" y1="339.23" x2="416.09" y2="339.23" stroke="#555555" stroke-width="0.8"/><circle cx="409.09" cy="243.23" r="1.25"/><circle cx="409.09" cy="241.05" r="1.25"/><circle cx="409.09" cy="232.32" r="1.25"/><circle cx="409.09" cy="230.14" r="1.25"/><circle cx="409.09" cy="225.77" r="1.25"/><circle cx="409.09" cy="219.23" r="1.25"/></g>
<rect x="365.34" y="210.50" width="52.50" height="192.00" fill="none" stroke="#444444" stroke-width="1.0"/>
<line x1="362.34" y1="393.77" x2="365.34" y2="393.77" stroke="#444444" stroke-width="0.9"/>
<text x="0" y="0" font-size="20.0" text-anchor="end" fill="#1a1a1a" stroke="#1a1a1a" stroke-width="0.522" textLength="21.02" lengthAdjust="spacingAndGlyphs" transform="translate(361.14,396.77) scale(0.3450)" >20</text>
<line x1="362.34" y1="371.95" x2="365.34" y2="371.95" stroke="#444444" stroke-width="0.9"/>
<text x="0" y="0" font-size="20.0" text-anchor="end" fill="#1a1a1a" stroke="#1a1a1a" stroke-width="0.522" textLength="21.02" lengthAdjust="spacingAndGlyphs" transform="translate(361.14,374.95) scale(0.3450)" >30</text>
<line x1="362.34" y1="350.14" x2="365.34" y2="350.14" stroke="#444444" stroke-width="0.9"/>
<text x="0" y="0" font-size="20.0" text-anchor="end" fill="#1a1a1a" stroke="#1a1a1a" stroke-width="0.522" textLength="21.02" lengthAdjust="spacingAndGlyphs" transform="translate(361.14,353.14) scale(0.3450)" >40</text>
<line x1="362.34" y1="328.32" x2="365.34" y2="328.32" stroke="#444444" stroke-width="0.9"/>
<text x="0" y="0" font-size="20.0" text-anchor="end" fill="#1a1a1a" stroke="#1a1a1a" stroke-width="0.522" textLength="21.02" lengthAdjust="spacingAndGlyphs" transform="translate(361.14,331.32) scale(0.3450)" >50</text>
<line x1="362.34" y1="306.50" x2="365.34" y2="306.50" stroke="#444444" stroke-width="0.9"/>
<text x="0" y="0" font-size="20.0" text-anchor="end" fill="#1a1a1a" stroke="#1a1a1a" stroke-width="0.522" textLength="21.02" lengthAdjust="spacingAndGlyphs" transform="translate(361.14,309.50) scale(0.3450)" >60</text>
<line x1="362.34" y1="284.68" x2="365.34" y2="284.68" stroke="#444444" stroke-width="0.9"/>
<text x="0" y="0" font-size="20.0" text-anchor="end" fill="#1a1a1a" stroke="#1a1a1a" stroke-width="0.522" textLength="21.02" lengthAdjust="spacingAndGlyphs" transform="translate(361.14,287.68) scale(0.3450)" >70</text>
<line x1="362.34" y1="262.86" x2="365.34" y2="262.86" stroke="#444444" stroke-width="0.9"/>
<text x="0" y="0" font-size="20.0" text-anchor="end" fill="#1a1a1a" stroke="#1a1a1a" stroke-width="0.522" textLength="21.02" lengthAdjust="spacingAndGlyphs" transform="translate(361.14,265.86) scale(0.3450)" >80</text>
<line x1="362.34" y1="241.05" x2="365.34" y2="241.05" stroke="#444444" stroke-width="0.9"/>
<text x="0" y="0" font-size="20.0" text-anchor="end" fill="#1a1a1a" stroke="#1a1a1a" stroke-width="0.522" textLength="21.02" lengthAdjust="spacingAndGlyphs" transform="translate(361.14,244.05) scale(0.3450)" >90</text>
<line x1="362.34" y1="219.23" x2="365.34" y2="219.23" stroke="#444444" stroke-width="0.9"/>
<text x="0" y="0" font-size="20.0" text-anchor="end" fill="#1a1a1a" stroke="#1a1a1a" stroke-width="0.522" textLength="31.54" lengthAdjust="spacingAndGlyphs" transform="translate(361.14,222.23) scale(0.3450)" >100</text>
<line x1="374.09" y1="402.50" x2="374.09" y2="405.30" stroke="#444444" stroke-width="0.9"/>
<text x="0" y="0" font-size="20.0" text-anchor="end" fill="#1a1a1a" stroke="#1a1a1a" stroke-width="0.353" textLength="75.11" lengthAdjust="spacingAndGlyphs" transform="translate(384.42,411.10) rotate(-45) scale(0.3400)" >Low-Risk</text>
<line x1="391.59" y1="402.50" x2="391.59" y2="405.30" stroke="#444444" stroke-width="0.9"/>
<text x="0" y="0" font-size="20.0" text-anchor="end" fill="#1a1a1a" stroke="#1a1a1a" stroke-width="0.353" textLength="109.93" lengthAdjust="spacingAndGlyphs" transform="translate(406.10,411.10) rotate(-45) scale(0.3400)" >Mediate-Risk</text>
<line x1="409.09" y1="402.50" x2="409.09" y2="405.30" stroke="#444444" stroke-width="0.9"/>
<text x="0" y="0" font-size="20.0" text-anchor="end" fill="#1a1a1a" stroke="#1a1a1a" stroke-width="0.353" textLength="80.72" lengthAdjust="spacingAndGlyphs" transform="translate(420.09,411.10) rotate(-45) scale(0.3400)" >High-Risk</text>
<text x="0" y="0" font-size="20.0" text-anchor="middle" fill="#1a1a1a" stroke="#1a1a1a" stroke-width="0.256" textLength="38.12" lengthAdjust="spacingAndGlyphs" transform="translate(391.59,207.10) scale(0.3900)" >HDL</text>
<text x="0" y="0" font-size="20.0" text-anchor="middle" fill="#1a1a1a" stroke="#1a1a1a" stroke-width="0.467" textLength="126.30" lengthAdjust="spacingAndGlyphs" transform="translate(345.16,306.50) rotate(-90) scale(0.3000)" >HDL (mg/dL)</text>
<g fill="#262626"><line x1="459.80" y1="342.41" x2="459.80" y2="309.99" stroke="#555555" stroke-width="0.8"/><line x1="459.80" y1="363.85" x2="459.80" y2="393.77" stroke="#555555" stroke-width="0.8"/><line x1="456.30" y1="309.99" x2="463.30" y2="309.99" stroke="#555555" stroke-width="0.8"/><line x1="456.30" y1="393.77" x2="463.30" y2="393.77" stroke="#555555" stroke-width="0.8"/><rect x="452.80" y="342.41" width="14.00" height="21.44" fill="#72b6a1" stroke="#555555" stroke-width="0.8"/><line x1="452.80" y1="352.88" x2="466.80" y2="352.88" stroke="#555555" stroke-width="0.8"/><circle cx="459.80" cy="308.99" r="1.25"/><circle cx="459.80" cy="307.18" r="1.25"/><circle cx="459.80" cy="305.37" r="1.25"/><circle cx="459.80" cy="303.55" r="1.25"/><circle cx="459.80" cy="301.74" r="1.25"/><circle cx="459.80" cy="299.93" r="1.25"/><circle cx="459.80" cy="298.11" r="1.25"/><circle cx="459.80" cy="296.30" r="1.25"/><circle cx="459.80" cy="294.49" r="1.25"/><circle cx="459.80" cy="292.67" r="1.25"/><circle cx="459.80" cy="290.86" r="1.25"/><circle cx="459.80" cy="289.05" r="1.25"/><circle cx="459.80" cy="286.55" r="1.25"/><circle cx="459.80" cy="284.06" r="1.25"/><circle cx="459.80" cy="275.08" r="1.25"/><circle cx="459.80" cy="273.09" r="1.25"/><circle cx="459.80" cy="271.59" r="1.25"/><circle cx="459.80" cy="265.11" r="1.25"/><circle cx="459.80" cy="220.22" r="1.25"/><circle cx="459.80" cy="219.23" r="1.25"/><line x1="477.30" y1="343.40" x2="477.30" y2="302.51" stroke="#555555" stroke-width="0.8"/><line x1="477.30" y1="370.33" x2="477.30" y2="393.77" stroke="#555555" stroke-width="0.8"/><line x1="473.80" y1="302.51" x2="480.80" y2="302.51" stroke="#555555" stroke-width="0.8"/><line x1="473.80" y1="393.77" x2="480.80" y2="393.77" stroke="#555555" stroke-width="0.8"/><rect x="470.30" y="343.40" width="14.00" height="26.93" fill="#e99675" stroke="#555555" stroke-width="0.8"/><line x1="470.30" y1="356.87" x2="484.30" y2="356.87" stroke="#555555" stroke-width="0.8"/><circle cx="477.30" cy="301.51" r="1.25"/><circle cx="477.30" cy="299.82" r="1.25"/><circle cx="477.30" cy="298.12" r="1.25"/><circle cx="477.30" cy="296.43" r="1.25"/><circle cx="477.30" cy="294.73" r="1.25"/><circle cx="477.30" cy="293.04" r="1.25"/><circle cx="477.30" cy="290.54" r="1.25"/><circle cx="477.30" cy="286.55" r="1.25"/><circle cx="477.30" cy="276.58" r="1.25"/><line x1="494.80" y1="349.39" x2="494.80" y2="308.49" stroke="#555555" stroke-width="0.8"/><line x1="494.80" y1="377.32" x2="494.80" y2="393.77" stroke="#555555" stroke-width="0.8"/><line x1="491.30" y1="308.49" x2="498.30" y2="308.49" stroke="#555555" stroke-width="0.8"/><line x1="491.30" y1="393.77" x2="498.30" y2="393.77" stroke="#555555" stroke-width="0.8"/><rect x="487.80" y="349.39" width="14.00" height="27.93" fill="#95a3c3" stroke="#555555" stroke-width="0.8"/><line x1="487.80" y1="364.85" x2="501.80" y2="364.85" stroke="#555555" stroke-width="0.8"/><circle cx="494.80" cy="305.50" r="1.25"/><circle cx="494.80" cy="301.51" r="1.25"/><circle cx="494.80" cy="299.02" r="1.25"/><circle cx="494.80" cy="266.60" r="1.25"/><circle cx="494.80" cy="265.11" r="1.25"/></g>
<rect x="451.05" y="210.50" width="52.50" height="192.00" fill="none" stroke="#444444" stroke-width="1.0"/>
<line x1="448.05" y1="383.80" x2="451.05" y2="383.80" stroke="#444444" stroke-width="0.9"/>
<text x="0" y="0" font-size="20.0" text-anchor="end" fill="#1a1a1a" stroke="#1a1a1a" stroke-width="0.522" textLength="21.02" lengthAdjust="spacingAndGlyphs" transform="translate(446.85,386.80) scale(0.3450)" >50</text>
<line x1="448.05" y1="358.86" x2="451.05" y2="358.86" stroke="#444444" stroke-width="0.9"/>
<text x="0" y="0" font-size="20.0" text-anchor="end" fill="#1a1a1a" stroke="#1a1a1a" stroke-width="0.522" textLength="31.54" lengthAdjust="spacingAndGlyphs" transform="translate(446.85,361.86) scale(0.3450)" >100</text>
<line x1="448.05" y1="333.93" x2="451.05" y2="333.93" stroke="#444444" stroke-width="0.9"/>
<text x="0" y="0" font-size="20.0" text-anchor="end" fill="#1a1a1a" stroke="#1a1a1a" stroke-width="0.522" textLength="31.54" lengthAdjust="spacingAndGlyphs" transform="translate(446.85,336.93) scale(0.3450)" >150</text>
<line x1="448.05" y1="308.99" x2="451.05" y2="308.99" stroke="#444444" stroke-width="0.9"/>
<text x="0" y="0" font-size="20.0" text-anchor="end" fill="#1a1a1a" stroke="#1a1a1a" stroke-width="0.522" textLength="31.54" lengthAdjust="spacingAndGlyphs" transform="translate(446.85,311.99) scale(0.3450)" >200</text>
<line x1="448.05" y1="284.06" x2="451.05" y2="284.06" stroke="#444444" stroke-width="0.9"/>
<text x="0" y="0" font-size="20.0" text-anchor="end" fill="#1a1a1a" stroke="#1a1a1a" stroke-width="0.522" textLength="31.54" lengthAdjust="spacingAndGlyphs" transform="translate(446.85,287.06) scale(0.3450)" >250</text>
<line x1="448.05" y1="259.12" x2="451.05" y2="259.12" stroke="#444444" stroke-width="0.9"/>
<text x="0" y="0" font-size="20.0" text-anchor="end" fill="#1a1a1a" stroke="#1a1a1a" stroke-width="0.522" textLength="31.54" lengthAdjust="spacingAndGlyphs" transform="translate(446.85,262.12) scale(0.3450)" >300</text>
<line x1="448.05" y1="234.19" x2="451.05" y2="234.19" stroke="#444444" stroke-width="0.9"/>
<text x="0" y="0" font-size="20.0" text-anchor="end" fill="#1a1a1a" stroke="#1a1a1a" stroke-width="0.522" textLength="31.54" lengthAdjust="spacingAndGlyphs" transform="translate(446.85,237.19) scale(0.3450)" >350</text>
<line x1="459.80" y1="402.50" x2="459.80" y2="405.30" stroke="#444444" stroke-width="0.9"/>
<text x="0" y="0" font-size="20.0" text-anchor="end" fill="#1a1a1a" stroke="#1a1a1a" stroke-width="0.353" textLength="75.11" lengthAdjust="spacingAndGlyphs" transform="translate(470.13,411.10) rotate(-45) scale(0.3400)" >Low-Risk</text>
<line x1="477.30" y1="402.50" x2="477.30" y2="405.30" stroke="#444444" stroke-width="0.9"/>
<text x="0" y="0" font-size="20.0" text-anchor="end" fill="#1a1a1a" stroke="#1a1a1a" stroke-width="0.353" textLength="109.93" lengthAdjust="spacingAndGlyphs" transform="translate(491.81,411.10) rotate(-45) scale(0.3400)" >Mediate-Risk</text>
<line x1="494.80" y1="402.50" x2="494.80" y2="405.30" stroke="#444444" stroke-width="0.9"/>
<text x="0" y="0" font-size="20.0" text-anchor="end" fill="#1a1a1a" stroke="#1a1a1a" stroke-width="0.353" textLength="80.72" lengthAdjust="spacingAndGlyphs" transform="translate(505.80,411.10) rotate(-45) scale(0.3400)" >High-Risk</text>
<text x="0" y="0" font-size="20.0" text-anchor="middle" fill="#1a1a1a" stroke="#1a1a1a" stroke-width="0.256" textLength="34.54" lengthAdjust="spacingAndGlyphs" transform="translate(477.30,207.10) scale(0.3900)" >LDL</text>
<text x="0" y="0" font-size="20.0" text-anchor="middle" fill="#1a1a1a" stroke="#1a1a1a" stroke-width="0.467" textLength="122.40" lengthAdjust="spacingAndGlyphs" transform="translate(430.87,306.50) rotate(-90) scale(0.3000)" >LDL (mg/dL)</text>
<g fill="#262626"><line x1="545.51" y1="295.59" x2="545.51" y2="254.14" stroke="#555555" stroke-width="0.8"/><line x1="545.51" y1="323.95" x2="545.51" y2="363.23" stroke="#555555" stroke-width="0.8"/><line x1="542.01" y1="254.14" x2="549.01" y2="254.14" stroke="#555555" stroke-width="0.8"/><line x1="542.01" y1="363.23" x2="549.01" y2="363.23" stroke="#555555" stroke-width="0.8"/><rect x="538.51" y="295.59" width="14.00" height="28.36" fill="#72b6a1" stroke="#555555" stroke-width="0.8"/><line x1="538.51" y1="306.50" x2="552.51" y2="306.50" stroke="#555555" stroke-width="0.8"/><circle cx="545.51" cy="219.23" r="1.25"/><circle cx="545.51" cy="221.41" r="1.25"/><circle cx="545.51" cy="223.59" r="1.25"/><circle cx="545.51" cy="227.95" r="1.25"/><circle cx="545.51" cy="230.14" r="1.25"/><circle cx="545.51" cy="232.32" r="1.25"/><circle cx="545.51" cy="238.86" r="1.25"/><circle cx="545.51" cy="241.05" r="1.25"/><circle cx="545.51" cy="245.41" r="1.25"/><circle cx="545.51" cy="247.59" r="1.25"/><circle cx="545.51" cy="249.77" r="1.25"/><circle cx="545.51" cy="251.95" r="1.25"/><circle cx="545.51" cy="367.59" r="1.25"/><circle cx="545.51" cy="369.77" r="1.25"/><circle cx="545.51" cy="371.95" r="1.25"/><circle cx="545.51" cy="378.50" r="1.25"/><circle cx="545.51" cy="389.41" r="1.25"/><line x1="563.01" y1="289.05" x2="563.01" y2="243.23" stroke="#555555" stroke-width="0.8"/><line x1="563.01" y1="321.77" x2="563.01" y2="363.23" stroke="#555555" stroke-width="0.8"/><line x1="559.51" y1="243.23" x2="566.51" y2="243.23" stroke="#555555" stroke-width="0.8"/><line x1="559.51" y1="363.23" x2="566.51" y2="363.23" stroke="#555555" stroke-width="0.8"/><rect x="556.01" y="289.05" width="14.00" height="32.73" fill="#e99675" stroke="#555555" stroke-width="0.8"/><line x1="556.01" y1="306.50" x2="570.01" y2="306.50" stroke="#555555" stroke-width="0.8"/><circle cx="563.01" cy="219.23" r="1.25"/><circle cx="563.01" cy="221.41" r="1.25"/><circle cx="563.01" cy="223.59" r="1.25"/><circle cx="563.01" cy="230.14" r="1.25"/><circle cx="563.01" cy="232.32" r="1.25"/><circle cx="563.01" cy="234.50" r="1.25"/><circle cx="563.01" cy="236.68" r="1.25"/><circle cx="563.01" cy="238.86" r="1.25"/><circle cx="563.01" cy="241.05" r="1.25"/><circle cx="563.01" cy="374.14" r="1.25"/><circle cx="563.01" cy="376.32" r="1.25"/><circle cx="563.01" cy="378.50" r="1.25"/><circle cx="563.01" cy="380.68" r="1.25"/><circle cx="563.01" cy="385.05" r="1.25"/><line x1="580.51" y1="284.68" x2="580.51" y2="223.59" stroke="#555555" stroke-width="0.8"/><line x1="580.51" y1="326.14" x2="580.51" y2="381.77" stroke="#555555" stroke-width="0.8"/><line x1="577.01" y1="223.59" x2="584.01" y2="223.59" stroke="#555555" stroke-width="0.8"/><line x1="577.01" y1="381.77" x2="584.01" y2="381.77" stroke="#555555" stroke-width="0.8"/><rect x="573.51" y="284.68" width="14.00" height="41.45" fill="#95a3c3" stroke="#555555" stroke-width="0.8"/><line x1="573.51" y1="308.68" x2="587.51" y2="308.68" stroke="#555555" stroke-width="0.8"/><circle cx="580.51" cy="221.41" r="1.25"/><circle cx="580.51" cy="219.23" r="1.25"/><circle cx="580.51" cy="393.77" r="1.25"/></g>
<rect x="536.76" y="210.50" width="52.50" height="192.00" fill="none" stroke="#444444" stroke-width="1.0"/>
<line x1="533.76" y1="393.77" x2="536.76" y2="393.77" stroke="#444444" stroke-width="0.9"/>
<text x="0" y="0" font-size="20.0" text-anchor="end" fill="#1a1a1a" stroke="#1a1a1a" stroke-width="0.522" textLength="21.02" lengthAdjust="spacingAndGlyphs" transform="translate(532.56,396.77) scale(0.3450)" >40</text>
<line x1="533.76" y1="371.95" x2="536.76" y2="371.95" stroke="#444444" stroke-width="0.9"/>
<text x="0" y="0" font-size="20.0" text-anchor="end" fill="#1a1a1a" stroke="#1a1a1a" stroke-width="0.522" textLength="21.02" lengthAdjust="spacingAndGlyphs" transform="translate(532.56,374.95) scale(0.3450)" >50</text>
<line x1="533.76" y1="350.14" x2="536.76" y2="350.14" stroke="#444444" stroke-width="0.9"/>
<text x="0" y="0" font-size="20.0" text-anchor="end" fill="#1a1a1a" stroke="#1a1a1a" stroke-width="0.522" textLength="21.02" lengthAdjust="spacingAndGlyphs" transform="translate(532.56,353.14) scale(0.3450)" >60</text>
<line x1="533.76" y1="328.32" x2="536.76" y2="328.32" stroke="#444444" stroke-width="0.9"/>
<text x="0" y="0" font-size="20.0" text-anchor="end" fill="#1a1a1a" stroke="#1a1a1a" stroke-width="0.522" textLength="21.02" lengthAdjust="spacingAndGlyphs" transform="translate(532.56,331.32) scale(0.3450)" >70</text>
<line x1="533.76" y1="306.50" x2="536.76" y2="306.50" stroke="#444444" stroke-width="0.9"/>
<text x="0" y="0" font-size="20.0" text-anchor="end" fill="#1a1a1a" stroke="#1a1a1a" stroke-width="0.522" textLength="21.02" lengthAdjust="spacingAndGlyphs" transform="translate(532.56,309.50) scale(0.3450)" >80</text>
<line x1="533.76" y1="284.68" x2="536.76" y2="284.68" stroke="#444444" stroke-width="0.9"/>
<text x="0" y="0" font-size="20.0" text-anchor="end" fill="#1a1a1a" stroke="#1a1a1a" stroke-width="0.522" textLength="21.02" lengthAdjust="spacingAndGlyphs" transform="translate(532.56,287.68) scale(0.3450)" >90</text>
<line x1="533.76" y1="262.86" x2="536.76" y2="262.86" stroke="#444444" stroke-width="0.9"/>
<text x="0" y="0" font-size="20.0" text-anchor="end" fill="#1a1a1a" stroke="#1a1a1a" stroke-width="0.522" textLength="31.54" lengthAdjust="spacingAndGlyphs" transform="translate(532.56,265.86) scale(0.3450)" >100</text>
<line x1="533.76" y1="241.05" x2="536.76" y2="241.05" stroke="#444444" stroke-width="0.9"/>
<text x="0" y="0" font-size="20.0" text-anchor="end" fill="#1a1a1a" stroke="#1a1a1a" stroke-width="0.522" textLength="31.54" lengthAdjust="spacingAndGlyphs" transform="translate(532.56,244.05) scale(0.3450)" >110</text>
<line x1="533.76" y1="219.23" x2="536.76" y2="219.23" stroke="#444444" stroke-width="0.9"/>
<text x="0" y="0" font-size="20.0" text-anchor="end" fill="#1a1a1a" stroke="#1a1a1a" stroke-width="0.522" textLength="31.54" lengthAdjust="spacingAndGlyphs" transform="translate(532.56,222.23) scale(0.3450)" >120</text>
<line x1="545.51" y1="402.50" x2="545.51" y2="405.30" stroke="#444444" stroke-width="0.9"/>
<text x="0" y="0" font-size="20.0" text-anchor="end" fill="#1a1a1a" stroke="#1a1a1a" stroke-width="0.353" textLength="75.11" lengthAdjust="spacingAndGlyphs" transform="translate(555.84,411.10) rotate(-45) scale(0.3400)" >Low-Risk</text>
<line x1="563.01" y1="402.50" x2="563.01" y2="405.30" stroke="#444444" stroke-width="0.9"/>
<text x="0" y="0" font-size="20.0" text-anchor="end" fill="#1a1a1a" stroke="#1a1a1a" stroke-width="0.353" textLength="109.93" lengthAdjust="spacingAndGlyphs" transform="translate(577.52,411.10) rotate(-45) scale(0.3400)" >Mediate-Risk</text>
<line x1="580.51" y1="402.50" x2="580.51" y2="405.30" stroke="#444444" stroke-width="0.9"/>
<text x="0" y="0" font-size="20.0" text-anchor="end" fill="#1a1a1a" stroke="#1a1a1a" stroke-width="0.353" textLength="80.72" lengthAdjust="spacingAndGlyphs" transform="translate(591.51,411.10) rotate(-45) scale(0.3400)" >High-Risk</text>
<text x="0" y="0" font-size="20.0" text-anchor="middle" fill="#1a1a1a" stroke="#1a1a1a" stroke-width="0.256" textLength="37.75" lengthAdjust="spacingAndGlyphs" transform="translate(563.01,207.10) scale(0.3900)" >DBP</text>
<text x="0" y="0" font-size="20.0" text-anchor="middle" fill="#1a1a1a" stroke="#1a1a1a" stroke-width="0.467" textLength="129.84" lengthAdjust="spacingAndGlyphs" transform="translate(516.58,306.50) rotate(-90) scale(0.3000)" >DBP (mmHg)</text>
<g fill="#262626"><line x1="631.22" y1="334.22" x2="631.22" y2="303.42" stroke="#555555" stroke-width="0.8"/><line x1="631.22" y1="354.76" x2="631.22" y2="384.53" stroke="#555555" stroke-width="0.8"/><line x1="627.72" y1="303.42" x2="634.72" y2="303.42" stroke="#555555" stroke-width="0.8"/><line x1="627.72" y1="384.53" x2="634.72" y2="384.53" stroke="#555555" stroke-width="0.8"/><rect x="624.22" y="334.22" width="14.00" height="20.53" fill="#72b6a1" stroke="#555555" stroke-width="0.8"/><line x1="624.22" y1="345.52" x2="638.22" y2="345.52" stroke="#555555" stroke-width="0.8"/><circle cx="631.22" cy="302.39" r="1.25"/><circle cx="631.22" cy="300.61" r="1.25"/><circle cx="631.22" cy="298.83" r="1.25"/><circle cx="631.22" cy="297.04" r="1.25"/><circle cx="631.22" cy="293.48" r="1.25"/><circle cx="631.22" cy="291.69" r="1.25"/><circle cx="631.22" cy="289.91" r="1.25"/><circle cx="631.22" cy="288.13" r="1.25"/><circle cx="631.22" cy="286.34" r="1.25"/><circle cx="631.22" cy="284.56" r="1.25"/><circle cx="631.22" cy="282.78" r="1.25"/><circle cx="631.22" cy="280.99" r="1.25"/><circle cx="631.22" cy="279.21" r="1.25"/><circle cx="631.22" cy="277.43" r="1.25"/><circle cx="631.22" cy="275.64" r="1.25"/><circle cx="631.22" cy="273.86" r="1.25"/><circle cx="631.22" cy="272.08" r="1.25"/><circle cx="631.22" cy="270.29" r="1.25"/><circle cx="631.22" cy="268.51" r="1.25"/><circle cx="631.22" cy="252.08" r="1.25"/><circle cx="631.22" cy="386.59" r="1.25"/><circle cx="631.22" cy="388.64" r="1.25"/><circle cx="631.22" cy="393.77" r="1.25"/><line x1="648.72" y1="326.01" x2="648.72" y2="288.02" stroke="#555555" stroke-width="0.8"/><line x1="648.72" y1="351.68" x2="648.72" y2="387.61" stroke="#555555" stroke-width="0.8"/><line x1="645.22" y1="288.02" x2="652.22" y2="288.02" stroke="#555555" stroke-width="0.8"/><line x1="645.22" y1="387.61" x2="652.22" y2="387.61" stroke="#555555" stroke-width="0.8"/><rect x="641.72" y="326.01" width="14.00" height="25.67" fill="#e99675" stroke="#555555" stroke-width="0.8"/><line x1="641.72" y1="340.38" x2="655.72" y2="340.38" stroke="#555555" stroke-width="0.8"/><circle cx="648.72" cy="286.99" r="1.25"/><circle cx="648.72" cy="285.14" r="1.25"/><circle cx="648.72" cy="283.30" r="1.25"/><circle cx="648.72" cy="281.45" r="1.25"/><circle cx="648.72" cy="279.60" r="1.25"/><circle cx="648.72" cy="277.75" r="1.25"/><circle cx="648.72" cy="275.90" r="1.25"/><circle cx="648.72" cy="274.06" r="1.25"/><circle cx="648.72" cy="272.21" r="1.25"/><circle cx="648.72" cy="270.36" r="1.25"/><circle cx="648.72" cy="268.51" r="1.25"/><circle cx="648.72" cy="253.11" r="1.25"/><circle cx="648.72" cy="237.71" r="1.25"/><circle cx="648.72" cy="220.25" r="1.25"/><line x1="666.22" y1="317.79" x2="666.22" y2="270.56" stroke="#555555" stroke-width="0.8"/><line x1="666.22" y1="349.62" x2="666.22" y2="393.77" stroke="#555555" stroke-width="0.8"/><line x1="662.72" y1="270.56" x2="669.72" y2="270.56" stroke="#555555" stroke-width="0.8"/><line x1="662.72" y1="393.77" x2="669.72" y2="393.77" stroke="#555555" stroke-width="0.8"/><rect x="659.22" y="317.79" width="14.00" height="31.83" fill="#95a3c3" stroke="#555555" stroke-width="0.8"/><line x1="659.22" y1="336.28" x2="673.22" y2="336.28" stroke="#555555" stroke-width="0.8"/><circle cx="666.22" cy="268.51" r="1.25"/><circle cx="666.22" cy="266.71" r="1.25"/><circle cx="666.22" cy="264.92" r="1.25"/><circle cx="666.22" cy="263.12" r="1.25"/><circle cx="666.22" cy="261.32" r="1.25"/><circle cx="666.22" cy="259.53" r="1.25"/><circle cx="666.22" cy="257.73" r="1.25"/><circle cx="666.22" cy="255.93" r="1.25"/><circle cx="666.22" cy="254.14" r="1.25"/><circle cx="666.22" cy="252.34" r="1.25"/><circle cx="666.22" cy="250.54" r="1.25"/><circle cx="666.22" cy="248.75" r="1.25"/><circle cx="666.22" cy="246.95" r="1.25"/><circle cx="666.22" cy="239.76" r="1.25"/><circle cx="666.22" cy="236.68" r="1.25"/><circle cx="666.22" cy="219.23" r="1.25"/></g>
<rect x="622.47" y="210.50" width="52.50" height="192.00" fill="none" stroke="#444444" stroke-width="1.0"/>
<line x1="619.47" y1="398.91" x2="622.47" y2="398.91" stroke="#444444" stroke-width="0.9"/>
<text x="0" y="0" font-size="20.0" text-anchor="end" fill="#1a1a1a" stroke="#1a1a1a" stroke-width="0.522" textLength="21.02" lengthAdjust="spacingAndGlyphs" transform="translate(618.27,401.91) scale(0.3450)" >75</text>
<line x1="619.47" y1="373.24" x2="622.47" y2="373.24" stroke="#444444" stroke-width="0.9"/>
<text x="0" y="0" font-size="20.0" text-anchor="end" fill="#1a1a1a" stroke="#1a1a1a" stroke-width="0.522" textLength="31.54" lengthAdjust="spacingAndGlyphs" transform="translate(618.27,376.24) scale(0.3450)" >100</text>
<line x1="619.47" y1="347.57" x2="622.47" y2="347.57" stroke="#444444" stroke-width="0.9"/>
<text x="0" y="0" font-size="20.0" text-anchor="end" fill="#1a1a1a" stroke="#1a1a1a" stroke-width="0.522" textLength="31.54" lengthAdjust="spacingAndGlyphs" transform="translate(618.27,350.57) scale(0.3450)" >125</text>
<line x1="619.47" y1="321.90" x2="622.47" y2="321.90" stroke="#444444" stroke-width="0.9"/>
<text x="0" y="0" font-size="20.0" text-anchor="end" fill="#1a1a1a" stroke="#1a1a1a" stroke-width="0.522" textLength="31.54" lengthAdjust="spacingAndGlyphs" transform="translate(618.27,324.90) scale(0.3450)" >150</text>
<line x1="619.47" y1="296.23" x2="622.47" y2="296.23" stroke="#444444" stroke-width="0.9"/>
<text x="0" y="0" font-size="20.0" text-anchor="end" fill="#1a1a1a" stroke="#1a1a1a" stroke-width="0.522" textLength="31.54" lengthAdjust="spacingAndGlyphs" transform="translate(618.27,299.23) scale(0.3450)" >175</text>
<line x1="619.47" y1="270.56" x2="622.47" y2="270.56" stroke="#444444" stroke-width="0.9"/>
<text x="0" y="0" font-size="20.0" text-anchor="end" fill="#1a1a1a" stroke="#1a1a1a" stroke-width="0.522" textLength="31.54" lengthAdjust="spacingAndGlyphs" transform="translate(618.27,273.56) scale(0.3450)" >200</text>
<line x1="619.47" y1="244.90" x2="622.47" y2="244.90" stroke="#444444" stroke-width="0.9"/>
<text x="0" y="0" font-size="20.0" text-anchor="end" fill="#1a1a1a" stroke="#1a1a1a" stroke-width="0.522" textLength="31.54" lengthAdjust="spacingAndGlyphs" transform="translate(618.27,247.90) scale(0.3450)" >225</text>
<line x1="619.47" y1="219.23" x2="622.47" y2="219.23" stroke="#444444" stroke-width="0.9"/>
<text x="0" y="0" font-size="20.0" text-anchor="end" fill="#1a1a1a" stroke="#1a1a1a" stroke-width="0.522" textLength="31.54" lengthAdjust="spacingAndGlyphs" transform="translate(618.27,222.23) scale(0.3450)" >250</text>
<line x1="631.22" y1="402.50" x2="631.22" y2="405.30" stroke="#444444" stroke-width="0.9"/>
<text x="0" y="0" font-size="20.0" text-anchor="end" fill="#1a1a1a" stroke="#1a1a1a" stroke-width="0.353" textLength="75.11" lengthAdjust="spacingAndGlyphs" transform="translate(641.55,411.10) rotate(-45) scale(0.3400)" >Low-Risk</text>
<line x1="648.72" y1="402.50" x2="648.72" y2="405.30" stroke="#444444" stroke-width="0.9"/>
<text x="0" y="0" font-size="20.0" text-anchor="end" fill="#1a1a1a" stroke="#1a1a1a" stroke-width="0.353" textLength="109.93" lengthAdjust="spacingAndGlyphs" transform="translate(663.23,411.10) rotate(-45) scale(0.3400)" >Mediate-Risk</text>
<line x1="666.22" y1="402.50" x2="666.22" y2="405.30" stroke="#444444" stroke-width="0.9"/>
<text x="0" y="0" font-size="20.0" text-anchor="end" fill="#1a1a1a" stroke="#1a1a1a" stroke-width="0.353" textLength="80.72" lengthAdjust="spacingAndGlyphs" transform="translate(677.22,411.10) rotate(-45) scale(0.3400)" >High-Risk</text>
<text x="0" y="0" font-size="20.0" text-anchor="middle" fill="#1a1a1a" stroke="#1a1a1a" stroke-width="0.256" textLength="35.27" lengthAdjust="spacingAndGlyphs" transform="translate(648.72,207.10) scale(0.3900)" >SBP</text>
<text x="0" y="0" font-size="20.0" text-anchor="middle" fill="#1a1a1a" stroke="#1a1a1a" stroke-width="0.467" textLength="127.14" lengthAdjust="spacingAndGlyphs" transform="translate(602.29,306.50) rotate(-90) scale(0.3000)" >SBP (mmHg)</text>
<g fill="#262626"><line x1="31.25" y1="602.90" x2="31.25" y2="528.10" stroke="#555555" stroke-width="0.8"/><line x1="31.25" y1="652.77" x2="31.25" y2="652.77" stroke="#555555" stroke-width="0.8"/><line x1="27.75" y1="528.10" x2="34.75" y2="528.10" stroke="#555555" stroke-width="0.8"/><line x1="27.75" y1="652.77" x2="34.75" y2="652.77" stroke="#555555" stroke-width="0.8"/><rect x="24.25" y="602.90" width="14.00" height="49.87" fill="#72b6a1" stroke="#555555" stroke-width="0.8"/><line x1="24.25" y1="627.84" x2="38.25" y2="627.84" stroke="#555555" stroke-width="0.8"/><circle cx="31.25" cy="503.16" r="1.25"/><line x1="48.75" y1="553.03" x2="48.75" y2="478.23" stroke="#555555" stroke-width="0.8"/><line x1="48.75" y1="627.84" x2="48.75" y2="652.77" stroke="#555555" stroke-width="0.8"/><line x1="45.25" y1="478.23" x2="52.25" y2="478.23" stroke="#555555" stroke-width="0.8"/><line x1="45.25" y1="652.77" x2="52.25" y2="652.77" stroke="#555555" stroke-width="0.8"/><rect x="41.75" y="553.03" width="14.00" height="74.81" fill="#e99675" stroke="#555555" stroke-width="0.8"/><line x1="41.75" y1="577.97" x2="55.75" y2="577.97" stroke="#555555" stroke-width="0.8"/><line x1="66.25" y1="503.16" x2="66.25" y2="478.23" stroke="#555555" stroke-width="0.8"/><line x1="66.25" y1="602.90" x2="66.25" y2="652.77" stroke="#555555" stroke-width="0.8"/><line x1="62.75" y1="478.23" x2="69.75" y2="478.23" stroke="#555555" stroke-width="0.8"/><line x1="62.75" y1="652.77" x2="69.75" y2="652.77" stroke="#555555" stroke-width="0.8"/><rect x="59.25" y="503.16" width="14.00" height="99.74" fill="#95a3c3" stroke="#555555" stroke-width="0.8"/><line x1="59.25" y1="528.10" x2="73.25" y2="528.10" stroke="#555555" stroke-width="0.8"/></g>
<rect x="22.50" y="469.50" width="52.50" height="192.00" fill="none" stroke="#444444" stroke-width="1.0"/>
<line x1="19.50" y1="652.77" x2="22.50" y2="652.77" stroke="#444444" stroke-width="0.9"/>
<text x="0" y="0" font-size="20.0" text-anchor="end" fill="#1a1a1a" stroke="#1a1a1a" stroke-width="0.522" textLength="26.28" lengthAdjust="spacingAndGlyphs" transform="translate(18.30,655.77) scale(0.3450)" >5.7</text>
<line x1="19.50" y1="627.84" x2="22.50" y2="627.84" stroke="#444444" stroke-width="0.9"/>
<text x="0" y="0" font-size="20.0" text-anchor="end" fill="#1a1a1a" stroke="#1a1a1a" stroke-width="0.522" textLength="26.28" lengthAdjust="spacingAndGlyphs" transform="translate(18.30,630.84) scale(0.3450)" >5.8</text>
<line x1="19.50" y1="602.90" x2="22.50" y2="602.90" stroke="#444444" stroke-width="0.9"/>
<text x="0" y="0" font-size="20.0" text-anchor="end" fill="#1a1a1a" stroke="#1a1a1a" stroke-width="0.522" textLength="26.28" lengthAdjust="spacingAndGlyphs" transform="translate(18.30,605.90) scale(0.3450)" >5.9</text>
<line x1="19.50" y1="577.97" x2="22.50" y2="577.97" stroke="#444444" stroke-width="0.9"/>
<text x="0" y="0" font-size="20.0" text-anchor="end" fill="#1a1a1a" stroke="#1a1a1a" stroke-width="0.522" textLength="26.28" lengthAdjust="spacingAndGlyphs" transform="translate(18.30,580.97) scale(0.3450)" >6.0</text>
<line x1="19.50" y1="553.03" x2="22.50" y2="553.03" stroke="#444444" stroke-width="0.9"/>
<text x="0" y="0" font-size="20.0" text-anchor="end" fill="#1a1a1a" stroke="#1a1a1a" stroke-width="0.522" textLength="26.28" lengthAdjust="spacingAndGlyphs" transform="translate(18.30,556.03) scale(0.3450)" >6.1</text>
<line x1="19.50" y1="528.10" x2="22.50" y2="528.10" stroke="#444444" stroke-width="0.9"/>
<text x="0" y="0" font-size="20.0" text-anchor="end" fill="#1a1a1a" stroke="#1a1a1a" stroke-width="0.522" textLength="26.28" lengthAdjust="spacingAndGlyphs" transform="translate(18.30,531.10) scale(0.3450)" >6.2</text>
<line x1="19.50" y1="503.16" x2="22.50" y2="503.16" stroke="#444444" stroke-width="0.9"/>
<text x="0" y="0" font-size="20.0" text-anchor="end" fill="#1a1a1a" stroke="#1a1a1a" stroke-width="0.522" textLength="26.28" lengthAdjust="spacingAndGlyphs" transform="translate(18.30,506.16) scale(0.3450)" >6.3</text>
<line x1="19.50" y1="478.23" x2="22.50" y2="478.23" stroke="#444444" stroke-width="0.9"/>
<text x="0" y="0" font-size="20.0" text-anchor="end" fill="#1a1a1a" stroke="#1a1a1a" stroke-width="0.522" textLength="26.28" lengthAdjust="spacingAndGlyphs" transform="translate(18.30,481.23) scale(0.3450)" >6.4</text>
<line x1="31.25" y1="661.50" x2="31.25" y2="664.30" stroke="#444444" stroke-width="0.9"/>
<text x="0" y="0" font-size="20.0" text-anchor="end" fill="#1a1a1a" stroke="#1a1a1a" stroke-width="0.353" textLength="75.11" lengthAdjust="spacingAndGlyphs" transform="translate(41.58,670.10) rotate(-45) scale(0.3400)" >Low-Risk</text>
<line x1="48.75" y1="661.50" x2="48.75" y2="664.30" stroke="#444444" stroke-width="0.9"/>
<text x="0" y="0" font-size="20.0" text-anchor="end" fill="#1a1a1a" stroke="#1a1a1a" stroke-width="0.353" textLength="109.93" lengthAdjust="spacingAndGlyphs" transform="translate(63.26,670.10) rotate(-45) scale(0.3400)" >Mediate-Risk</text>
<line x1="66.25" y1="661.50" x2="66.25" y2="664.30" stroke="#444444" stroke-width="0.9"/>
<text x="0" y="0" font-size="20.0" text-anchor="end" fill="#1a1a1a" stroke="#1a1a1a" stroke-width="0.353" textLength="80.72" lengthAdjust="spacingAndGlyphs" transform="translate(77.25,670.10) rotate(-45) scale(0.3400)" >High-Risk</text>
<text x="0" y="0" font-size="20.0" text-anchor="middle" fill="#1a1a1a" stroke="#1a1a1a" stroke-width="0.256" textLength="59.71" lengthAdjust="spacingAndGlyphs" transform="translate(48.75,466.10) scale(0.3900)" >HbA1c</text>
<text x="0" y="0" font-size="20.0" text-anchor="middle" fill="#1a1a1a" stroke="#1a1a1a" stroke-width="0.467" textLength="106.10" lengthAdjust="spacingAndGlyphs" transform="translate(4.14,565.50) rotate(-90) scale(0.3000)" >HbA1c (%)</text>
<g fill="#262626"><line x1="116.96" y1="552.36" x2="116.96" y2="488.14" stroke="#555555" stroke-width="0.8"/><line x1="116.96" y1="595.67" x2="116.96" y2="652.77" stroke="#555555" stroke-width="0.8"/><line x1="113.46" y1="488.14" x2="120.46" y2="488.14" stroke="#555555" stroke-width="0.8"/><line x1="113.46" y1="652.77" x2="120.46" y2="652.77" stroke="#555555" stroke-width="0.8"/><rect x="109.96" y="552.36" width="14.00" height="43.31" fill="#72b6a1" stroke="#555555" stroke-width="0.8"/><line x1="109.96" y1="573.69" x2="123.96" y2="573.69" stroke="#555555" stroke-width="0.8"/><circle cx="116.96" cy="486.85" r="1.25"/><circle cx="116.96" cy="484.69" r="1.25"/><circle cx="116.96" cy="482.54" r="1.25"/><circle cx="116.96" cy="480.38" r="1.25"/><line x1="134.46" y1="544.60" x2="134.46" y2="479.30" stroke="#555555" stroke-width="0.8"/><line x1="134.46" y1="594.81" x2="134.46" y2="651.70" stroke="#555555" stroke-width="0.8"/><line x1="130.96" y1="479.30" x2="137.96" y2="479.30" stroke="#555555" stroke-width="0.8"/><line x1="130.96" y1="651.70" x2="137.96" y2="651.70" stroke="#555555" stroke-width="0.8"/><rect x="127.46" y="544.60" width="14.00" height="50.21" fill="#e99675" stroke="#555555" stroke-width="0.8"/><line x1="127.46" y1="567.22" x2="141.46" y2="567.22" stroke="#555555" stroke-width="0.8"/><line x1="151.96" y1="531.24" x2="151.96" y2="478.23" stroke="#555555" stroke-width="0.8"/><line x1="151.96" y1="580.80" x2="151.96" y2="648.46" stroke="#555555" stroke-width="0.8"/><line x1="148.46" y1="478.23" x2="155.46" y2="478.23" stroke="#555555" stroke-width="0.8"/><line x1="148.46" y1="648.46" x2="155.46" y2="648.46" stroke="#555555" stroke-width="0.8"/><rect x="144.96" y="531.24" width="14.00" height="49.56" fill="#95a3c3" stroke="#555555" stroke-width="0.8"/><line x1="144.96" y1="552.36" x2="158.96" y2="552.36" stroke="#555555" stroke-width="0.8"/></g>
<rect x="108.21" y="469.50" width="52.50" height="192.00" fill="none" stroke="#444444" stroke-width="1.0"/>
<line x1="105.21" y1="648.46" x2="108.21" y2="648.46" stroke="#444444" stroke-width="0.9"/>
<text x="0" y="0" font-size="20.0" text-anchor="end" fill="#1a1a1a" stroke="#1a1a1a" stroke-width="0.522" textLength="21.02" lengthAdjust="spacingAndGlyphs" transform="translate(104.01,651.46) scale(0.3450)" >20</text>
<line x1="105.21" y1="626.91" x2="108.21" y2="626.91" stroke="#444444" stroke-width="0.9"/>
<text x="0" y="0" font-size="20.0" text-anchor="end" fill="#1a1a1a" stroke="#1a1a1a" stroke-width="0.522" textLength="21.02" lengthAdjust="spacingAndGlyphs" transform="translate(104.01,629.91) scale(0.3450)" >30</text>
<line x1="105.21" y1="605.37" x2="108.21" y2="605.37" stroke="#444444" stroke-width="0.9"/>
<text x="0" y="0" font-size="20.0" text-anchor="end" fill="#1a1a1a" stroke="#1a1a1a" stroke-width="0.522" textLength="21.02" lengthAdjust="spacingAndGlyphs" transform="translate(104.01,608.37) scale(0.3450)" >40</text>
<line x1="105.21" y1="583.82" x2="108.21" y2="583.82" stroke="#444444" stroke-width="0.9"/>
<text x="0" y="0" font-size="20.0" text-anchor="end" fill="#1a1a1a" stroke="#1a1a1a" stroke-width="0.522" textLength="21.02" lengthAdjust="spacingAndGlyphs" transform="translate(104.01,586.82) scale(0.3450)" >50</text>
<line x1="105.21" y1="562.27" x2="108.21" y2="562.27" stroke="#444444" stroke-width="0.9"/>
<text x="0" y="0" font-size="20.0" text-anchor="end" fill="#1a1a1a" stroke="#1a1a1a" stroke-width="0.522" textLength="21.02" lengthAdjust="spacingAndGlyphs" transform="translate(104.01,565.27) scale(0.3450)" >60</text>
<line x1="105.21" y1="540.72" x2="108.21" y2="540.72" stroke="#444444" stroke-width="0.9"/>
<text x="0" y="0" font-size="20.0" text-anchor="end" fill="#1a1a1a" stroke="#1a1a1a" stroke-width="0.522" textLength="21.02" lengthAdjust="spacingAndGlyphs" transform="translate(104.01,543.72) scale(0.3450)" >70</text>
<line x1="105.21" y1="519.17" x2="108.21" y2="519.17" stroke="#444444" stroke-width="0.9"/>
<text x="0" y="0" font-size="20.0" text-anchor="end" fill="#1a1a1a" stroke="#1a1a1a" stroke-width="0.522" textLength="21.02" lengthAdjust="spacingAndGlyphs" transform="translate(104.01,522.17) scale(0.3450)" >80</text>
<line x1="105.21" y1="497.62" x2="108.21" y2="497.62" stroke="#444444" stroke-width="0.9"/>
<text x="0" y="0" font-size="20.0" text-anchor="end" fill="#1a1a1a" stroke="#1a1a1a" stroke-width="0.522" textLength="21.02" lengthAdjust="spacingAndGlyphs" transform="translate(104.01,500.62) scale(0.3450)" >90</text>
<line x1="105.21" y1="476.07" x2="108.21" y2="476.07" stroke="#444444" stroke-width="0.9"/>
<text x="0" y="0" font-size="20.0" text-anchor="end" fill="#1a1a1a" stroke="#1a1a1a" stroke-width="0.522" textLength="31.54" lengthAdjust="spacingAndGlyphs" transform="translate(104.01,479.07) scale(0.3450)" >100</text>
<line x1="116.96" y1="661.50" x2="116.96" y2="664.30" stroke="#444444" stroke-width="0.9"/>
<text x="0" y="0" font-size="20.0" text-anchor="end" fill="#1a1a1a" stroke="#1a1a1a" stroke-width="0.353" textLength="75.11" lengthAdjust="spacingAndGlyphs" transform="translate(127.29,670.10) rotate(-45) scale(0.3400)" >Low-Risk</text>
<line x1="134.46" y1="661.50" x2="134.46" y2="664.30" stroke="#444444" stroke-width="0.9"/>
<text x="0" y="0" font-size="20.0" text-anchor="end" fill="#1a1a1a" stroke="#1a1a1a" stroke-width="0.353" textLength="109.93" lengthAdjust="spacingAndGlyphs" transform="translate(148.97,670.10) rotate(-45) scale(0.3400)" >Mediate-Risk</text>
<line x1="151.96" y1="661.50" x2="151.96" y2="664.30" stroke="#444444" stroke-width="0.9"/>
<text x="0" y="0" font-size="20.0" text-anchor="end" fill="#1a1a1a" stroke="#1a1a1a" stroke-width="0.353" textLength="80.72" lengthAdjust="spacingAndGlyphs" transform="translate(162.96,670.10) rotate(-45) scale(0.3400)" >High-Risk</text>
<text x="0" y="0" font-size="20.0" text-anchor="middle" fill="#1a1a1a" stroke="#1a1a1a" stroke-width="0.256" textLength="35.46" lengthAdjust="spacingAndGlyphs" transform="translate(134.46,466.10) scale(0.3900)" >Age</text>
<text x="0" y="0" font-size="20.0" text-anchor="middle" fill="#1a1a1a" stroke="#1a1a1a" stroke-width="0.467" textLength="113.41" lengthAdjust="spacingAndGlyphs" transform="translate(88.03,565.50) rotate(-90) scale(0.3000)" >Age (Years)</text>
<g fill="#262626"><line x1="202.67" y1="571.46" x2="202.67" y2="527.74" stroke="#555555" stroke-width="0.8"/><line x1="202.67" y1="600.73" x2="202.67" y2="641.93" stroke="#555555" stroke-width="0.8"/><line x1="199.17" y1="527.74" x2="206.17" y2="527.74" stroke="#555555" stroke-width="0.8"/><line x1="199.17" y1="641.93" x2="206.17" y2="641.93" stroke="#555555" stroke-width="0.8"/><rect x="195.67" y="571.46" width="14.00" height="29.27" fill="#72b6a1" stroke="#555555" stroke-width="0.8"/><line x1="195.67" y1="587.72" x2="209.67" y2="587.72" stroke="#555555" stroke-width="0.8"/><circle cx="202.67" cy="525.21" r="1.25"/><circle cx="202.67" cy="523.40" r="1.25"/><circle cx="202.67" cy="521.59" r="1.25"/><circle cx="202.67" cy="519.79" r="1.25"/><circle cx="202.67" cy="517.98" r="1.25"/><circle cx="202.67" cy="514.37" r="1.25"/><circle cx="202.67" cy="512.56" r="1.25"/><circle cx="202.67" cy="510.75" r="1.25"/><circle cx="202.67" cy="508.94" r="1.25"/><circle cx="202.67" cy="507.14" r="1.25"/><circle cx="202.67" cy="505.33" r="1.25"/><circle cx="202.67" cy="503.52" r="1.25"/><circle cx="202.67" cy="501.72" r="1.25"/><circle cx="202.67" cy="499.91" r="1.25"/><circle cx="202.67" cy="498.10" r="1.25"/><circle cx="202.67" cy="496.30" r="1.25"/><circle cx="202.67" cy="490.88" r="1.25"/><circle cx="202.67" cy="489.07" r="1.25"/><circle cx="202.67" cy="487.26" r="1.25"/><circle cx="202.67" cy="485.45" r="1.25"/><circle cx="202.67" cy="483.65" r="1.25"/><circle cx="202.67" cy="478.23" r="1.25"/><circle cx="202.67" cy="649.88" r="1.25"/><line x1="220.17" y1="547.25" x2="220.17" y2="483.65" stroke="#555555" stroke-width="0.8"/><line x1="220.17" y1="589.53" x2="220.17" y2="634.70" stroke="#555555" stroke-width="0.8"/><line x1="216.67" y1="483.65" x2="223.67" y2="483.65" stroke="#555555" stroke-width="0.8"/><line x1="216.67" y1="634.70" x2="223.67" y2="634.70" stroke="#555555" stroke-width="0.8"/><rect x="213.17" y="547.25" width="14.00" height="42.28" fill="#e99675" stroke="#555555" stroke-width="0.8"/><line x1="213.17" y1="570.38" x2="227.17" y2="570.38" stroke="#555555" stroke-width="0.8"/><circle cx="220.17" cy="481.84" r="1.25"/><circle cx="220.17" cy="480.03" r="1.25"/><circle cx="220.17" cy="478.23" r="1.25"/><line x1="237.67" y1="557.37" x2="237.67" y2="493.77" stroke="#555555" stroke-width="0.8"/><line x1="237.67" y1="600.73" x2="237.67" y2="652.77" stroke="#555555" stroke-width="0.8"/><line x1="234.17" y1="493.77" x2="241.17" y2="493.77" stroke="#555555" stroke-width="0.8"/><line x1="234.17" y1="652.77" x2="241.17" y2="652.77" stroke="#555555" stroke-width="0.8"/><rect x="230.67" y="557.37" width="14.00" height="43.37" fill="#95a3c3" stroke="#555555" stroke-width="0.8"/><line x1="230.67" y1="583.03" x2="244.67" y2="583.03" stroke="#555555" stroke-width="0.8"/><circle cx="237.67" cy="490.88" r="1.25"/><circle cx="237.67" cy="489.07" r="1.25"/><circle cx="237.67" cy="485.45" r="1.25"/><circle cx="237.67" cy="478.23" r="1.25"/></g>
<rect x="193.92" y="469.50" width="52.50" height="192.00" fill="none" stroke="#444444" stroke-width="1.0"/>
<line x1="190.92" y1="658.92" x2="193.92" y2="658.92" stroke="#444444" stroke-width="0.9"/>
<text x="0" y="0" font-size="20.0" text-anchor="end" fill="#1a1a1a" stroke="#1a1a1a" stroke-width="0.522" textLength="21.02" lengthAdjust="spacingAndGlyphs" transform="translate(189.72,661.92) scale(0.3450)" >10</text>
<line x1="190.92" y1="622.78" x2="193.92" y2="622.78" stroke="#444444" stroke-width="0.9"/>
<text x="0" y="0" font-size="20.0" text-anchor="end" fill="#1a1a1a" stroke="#1a1a1a" stroke-width="0.522" textLength="21.02" lengthAdjust="spacingAndGlyphs" transform="translate(189.72,625.78) scale(0.3450)" >20</text>
<line x1="190.92" y1="586.64" x2="193.92" y2="586.64" stroke="#444444" stroke-width="0.9"/>
<text x="0" y="0" font-size="20.0" text-anchor="end" fill="#1a1a1a" stroke="#1a1a1a" stroke-width="0.522" textLength="21.02" lengthAdjust="spacingAndGlyphs" transform="translate(189.72,589.64) scale(0.3450)" >30</text>
<line x1="190.92" y1="550.50" x2="193.92" y2="550.50" stroke="#444444" stroke-width="0.9"/>
<text x="0" y="0" font-size="20.0" text-anchor="end" fill="#1a1a1a" stroke="#1a1a1a" stroke-width="0.522" textLength="21.02" lengthAdjust="spacingAndGlyphs" transform="translate(189.72,553.50) scale(0.3450)" >40</text>
<line x1="190.92" y1="514.37" x2="193.92" y2="514.37" stroke="#444444" stroke-width="0.9"/>
<text x="0" y="0" font-size="20.0" text-anchor="end" fill="#1a1a1a" stroke="#1a1a1a" stroke-width="0.522" textLength="21.02" lengthAdjust="spacingAndGlyphs" transform="translate(189.72,517.37) scale(0.3450)" >50</text>
<line x1="190.92" y1="478.23" x2="193.92" y2="478.23" stroke="#444444" stroke-width="0.9"/>
<text x="0" y="0" font-size="20.0" text-anchor="end" fill="#1a1a1a" stroke="#1a1a1a" stroke-width="0.522" textLength="21.02" lengthAdjust="spacingAndGlyphs" transform="translate(189.72,481.23) scale(0.3450)" >60</text>
<line x1="202.67" y1="661.50" x2="202.67" y2="664.30" stroke="#444444" stroke-width="0.9"/>
<text x="0" y="0" font-size="20.0" text-anchor="end" fill="#1a1a1a" stroke="#1a1a1a" stroke-width="0.353" textLength="75.11" lengthAdjust="spacingAndGlyphs" transform="translate(213.00,670.10) rotate(-45) scale(0.3400)" >Low-Risk</text>
<line x1="220.17" y1="661.50" x2="220.17" y2="664.30" stroke="#444444" stroke-width="0.9"/>
<text x="0" y="0" font-size="20.0" text-anchor="end" fill="#1a1a1a" stroke="#1a1a1a" stroke-width="0.353" textLength="109.93" lengthAdjust="spacingAndGlyphs" transform="translate(234.68,670.10) rotate(-45) scale(0.3400)" >Mediate-Risk</text>
<line x1="237.67" y1="661.50" x2="237.67" y2="664.30" stroke="#444444" stroke-width="0.9"/>
<text x="0" y="0" font-size="20.0" text-anchor="end" fill="#1a1a1a" stroke="#1a1a1a" stroke-width="0.353" textLength="80.72" lengthAdjust="spacingAndGlyphs" transform="translate(248.67,670.10) rotate(-45) scale(0.3400)" >High-Risk</text>
<text x="0" y="0" font-size="20.0" text-anchor="middle" fill="#1a1a1a" stroke="#1a1a1a" stroke-width="0.256" textLength="33.80" lengthAdjust="spacingAndGlyphs" transform="translate(220.17,466.10) scale(0.3900)" >BMI</text>
<text x="0" y="0" font-size="20.0" text-anchor="middle" fill="#1a1a1a" stroke="#1a1a1a" stroke-width="0.467" textLength="138.82" lengthAdjust="spacingAndGlyphs" transform="translate(177.37,565.50) rotate(-90) scale(0.3000)" >BMI (kg/m^2)</text>
<g fill="#262626"><line x1="288.38" y1="645.69" x2="288.38" y2="640.03" stroke="#555555" stroke-width="0.8"/><line x1="288.38" y1="650.29" x2="288.38" y2="652.77" stroke="#555555" stroke-width="0.8"/><line x1="284.88" y1="640.03" x2="291.88" y2="640.03" stroke="#555555" stroke-width="0.8"/><line x1="284.88" y1="652.77" x2="291.88" y2="652.77" stroke="#555555" stroke-width="0.8"/><rect x="281.38" y="645.69" width="14.00" height="4.60" fill="#72b6a1" stroke="#555555" stroke-width="0.8"/><line x1="281.38" y1="648.52" x2="295.38" y2="648.52" stroke="#555555" stroke-width="0.8"/><circle cx="288.38" cy="639.32" r="1.25"/><circle cx="288.38" cy="637.55" r="1.25"/><circle cx="288.38" cy="635.78" r="1.25"/><circle cx="288.38" cy="634.01" r="1.25"/><circle cx="288.38" cy="632.24" r="1.25"/><circle cx="288.38" cy="630.47" r="1.25"/><circle cx="288.38" cy="628.70" r="1.25"/><circle cx="288.38" cy="626.93" r="1.25"/><circle cx="288.38" cy="625.16" r="1.25"/><circle cx="288.38" cy="623.39" r="1.25"/><circle cx="288.38" cy="621.62" r="1.25"/><circle cx="288.38" cy="619.85" r="1.25"/><circle cx="288.38" cy="618.08" r="1.25"/><circle cx="288.38" cy="614.54" r="1.25"/><circle cx="288.38" cy="609.22" r="1.25"/><circle cx="288.38" cy="602.14" r="1.25"/><circle cx="288.38" cy="598.60" r="1.25"/><circle cx="288.38" cy="595.77" r="1.25"/><circle cx="288.38" cy="593.29" r="1.25"/><circle cx="288.38" cy="570.28" r="1.25"/><line x1="305.88" y1="644.63" x2="305.88" y2="636.49" stroke="#555555" stroke-width="0.8"/><line x1="305.88" y1="649.59" x2="305.88" y2="652.77" stroke="#555555" stroke-width="0.8"/><line x1="302.38" y1="636.49" x2="309.38" y2="636.49" stroke="#555555" stroke-width="0.8"/><line x1="302.38" y1="652.77" x2="309.38" y2="652.77" stroke="#555555" stroke-width="0.8"/><rect x="298.88" y="644.63" width="14.00" height="4.96" fill="#e99675" stroke="#555555" stroke-width="0.8"/><line x1="298.88" y1="647.46" x2="312.88" y2="647.46" stroke="#555555" stroke-width="0.8"/><circle cx="305.88" cy="635.78" r="1.25"/><circle cx="305.88" cy="633.97" r="1.25"/><circle cx="305.88" cy="632.17" r="1.25"/><circle cx="305.88" cy="630.36" r="1.25"/><circle cx="305.88" cy="626.76" r="1.25"/><circle cx="305.88" cy="624.95" r="1.25"/><circle cx="305.88" cy="623.15" r="1.25"/><circle cx="305.88" cy="621.34" r="1.25"/><circle cx="305.88" cy="619.54" r="1.25"/><circle cx="305.88" cy="617.73" r="1.25"/><circle cx="305.88" cy="615.93" r="1.25"/><circle cx="305.88" cy="614.12" r="1.25"/><circle cx="305.88" cy="612.32" r="1.25"/><circle cx="305.88" cy="610.52" r="1.25"/><circle cx="305.88" cy="608.71" r="1.25"/><circle cx="305.88" cy="606.91" r="1.25"/><circle cx="305.88" cy="605.10" r="1.25"/><circle cx="305.88" cy="603.30" r="1.25"/><circle cx="305.88" cy="599.69" r="1.25"/><circle cx="305.88" cy="597.88" r="1.25"/><circle cx="305.88" cy="596.08" r="1.25"/><circle cx="305.88" cy="594.27" r="1.25"/><circle cx="305.88" cy="592.47" r="1.25"/><circle cx="305.88" cy="590.67" r="1.25"/><circle cx="305.88" cy="588.86" r="1.25"/><circle cx="305.88" cy="587.06" r="1.25"/><circle cx="305.88" cy="585.25" r="1.25"/><circle cx="305.88" cy="583.45" r="1.25"/><circle cx="305.88" cy="581.64" r="1.25"/><circle cx="305.88" cy="579.84" r="1.25"/><circle cx="305.88" cy="527.79" r="1.25"/><line x1="323.38" y1="642.15" x2="323.38" y2="631.18" stroke="#555555" stroke-width="0.8"/><line x1="323.38" y1="649.23" x2="323.38" y2="652.77" stroke="#555555" stroke-width="0.8"/><line x1="319.88" y1="631.18" x2="326.88" y2="631.18" stroke="#555555" stroke-width="0.8"/><line x1="319.88" y1="652.77" x2="326.88" y2="652.77" stroke="#555555" stroke-width="0.8"/><rect x="316.38" y="642.15" width="14.00" height="7.08" fill="#95a3c3" stroke="#555555" stroke-width="0.8"/><line x1="316.38" y1="646.40" x2="330.38" y2="646.40" stroke="#555555" stroke-width="0.8"/><circle cx="323.38" cy="630.47" r="1.25"/><circle cx="323.38" cy="628.70" r="1.25"/><circle cx="323.38" cy="625.16" r="1.25"/><circle cx="323.38" cy="623.39" r="1.25"/><circle cx="323.38" cy="621.62" r="1.25"/><circle cx="323.38" cy="619.85" r="1.25"/><circle cx="323.38" cy="618.08" r="1.25"/><circle cx="323.38" cy="616.31" r="1.25"/><circle cx="323.38" cy="614.54" r="1.25"/><circle cx="323.38" cy="612.77" r="1.25"/><circle cx="323.38" cy="607.45" r="1.25"/><circle cx="323.38" cy="605.68" r="1.25"/><circle cx="323.38" cy="603.91" r="1.25"/><circle cx="323.38" cy="598.60" r="1.25"/><circle cx="323.38" cy="589.75" r="1.25"/><circle cx="323.38" cy="568.51" r="1.25"/><circle cx="323.38" cy="544.79" r="1.25"/><circle cx="323.38" cy="500.53" r="1.25"/><circle cx="323.38" cy="494.16" r="1.25"/><circle cx="323.38" cy="478.23" r="1.25"/></g>
<rect x="279.63" y="469.50" width="52.50" height="192.00" fill="none" stroke="#444444" stroke-width="1.0"/>
<line x1="276.63" y1="655.25" x2="279.63" y2="655.25" stroke="#444444" stroke-width="0.9"/>
<text x="0" y="0" font-size="20.0" text-anchor="end" fill="#1a1a1a" stroke="#1a1a1a" stroke-width="0.522" textLength="10.51" lengthAdjust="spacingAndGlyphs" transform="translate(275.43,658.25) scale(0.3450)" >0</text>
<line x1="276.63" y1="619.85" x2="279.63" y2="619.85" stroke="#444444" stroke-width="0.9"/>
<text x="0" y="0" font-size="20.0" text-anchor="end" fill="#1a1a1a" stroke="#1a1a1a" stroke-width="0.522" textLength="31.54" lengthAdjust="spacingAndGlyphs" transform="translate(275.43,622.85) scale(0.3450)" >100</text>
<line x1="276.63" y1="584.44" x2="279.63" y2="584.44" stroke="#444444" stroke-width="0.9"/>
<text x="0" y="0" font-size="20.0" text-anchor="end" fill="#1a1a1a" stroke="#1a1a1a" stroke-width="0.522" textLength="31.54" lengthAdjust="spacingAndGlyphs" transform="translate(275.43,587.44) scale(0.3450)" >200</text>
<line x1="276.63" y1="549.04" x2="279.63" y2="549.04" stroke="#444444" stroke-width="0.9"/>
<text x="0" y="0" font-size="20.0" text-anchor="end" fill="#1a1a1a" stroke="#1a1a1a" stroke-width="0.522" textLength="31.54" lengthAdjust="spacingAndGlyphs" transform="translate(275.43,552.04) scale(0.3450)" >300</text>
<line x1="276.63" y1="513.63" x2="279.63" y2="513.63" stroke="#444444" stroke-width="0.9"/>
<text x="0" y="0" font-size="20.0" text-anchor="end" fill="#1a1a1a" stroke="#1a1a1a" stroke-width="0.522" textLength="31.54" lengthAdjust="spacingAndGlyphs" transform="translate(275.43,516.63) scale(0.3450)" >400</text>
<line x1="276.63" y1="478.23" x2="279.63" y2="478.23" stroke="#444444" stroke-width="0.9"/>
<text x="0" y="0" font-size="20.0" text-anchor="end" fill="#1a1a1a" stroke="#1a1a1a" stroke-width="0.522" textLength="31.54" lengthAdjust="spacingAndGlyphs" transform="translate(275.43,481.23) scale(0.3450)" >500</text>
<line x1="288.38" y1="661.50" x2="288.38" y2="664.30" stroke="#444444" stroke-width="0.9"/>
<text x="0" y="0" font-size="20.0" text-anchor="end" fill="#1a1a1a" stroke="#1a1a1a" stroke-width="0.353" textLength="75.11" lengthAdjust="spacingAndGlyphs" transform="translate(298.71,670.10) rotate(-45) scale(0.3400)" >Low-Risk</text>
<line x1="305.88" y1="661.50" x2="305.88" y2="664.30" stroke="#444444" stroke-width="0.9"/>
<text x="0" y="0" font-size="20.0" text-anchor="end" fill="#1a1a1a" stroke="#1a1a1a" stroke-width="0.353" textLength="109.93" lengthAdjust="spacingAndGlyphs" transform="translate(320.39,670.10) rotate(-45) scale(0.3400)" >Mediate-Risk</text>
<line x1="323.38" y1="661.50" x2="323.38" y2="664.30" stroke="#444444" stroke-width="0.9"/>
<text x="0" y="0" font-size="20.0" text-anchor="end" fill="#1a1a1a" stroke="#1a1a1a" stroke-width="0.353" textLength="80.72" lengthAdjust="spacingAndGlyphs" transform="translate(334.38,670.10) rotate(-45) scale(0.3400)" >High-Risk</text>
<text x="0" y="0" font-size="20.0" text-anchor="middle" fill="#1a1a1a" stroke="#1a1a1a" stroke-width="0.256" textLength="31.43" lengthAdjust="spacingAndGlyphs" transform="translate(305.88,466.10) scale(0.3900)" >ALT</text>
<text x="0" y="0" font-size="20.0" text-anchor="middle" fill="#1a1a1a" stroke="#1a1a1a" stroke-width="0.467" textLength="88.77" lengthAdjust="spacingAndGlyphs" transform="translate(259.45,565.50) rotate(-90) scale(0.3000)" >ALT (U/L)</text>
<g fill="#262626"><line x1="374.09" y1="552.41" x2="374.09" y2="486.95" stroke="#555555" stroke-width="0.8"/><line x1="374.09" y1="596.05" x2="374.09" y2="652.77" stroke="#555555" stroke-width="0.8"/><line x1="370.59" y1="486.95" x2="377.59" y2="486.95" stroke="#555555" stroke-width="0.8"/><line x1="370.59" y1="652.77" x2="377.59" y2="652.77" stroke="#555555" stroke-width="0.8"/><rect x="367.09" y="552.41" width="14.00" height="43.64" fill="#72b6a1" stroke="#555555" stroke-width="0.8"/><line x1="367.09" y1="578.59" x2="381.09" y2="578.59" stroke="#555555" stroke-width="0.8"/><circle cx="374.09" cy="484.77" r="1.25"/><circle cx="374.09" cy="482.59" r="1.25"/><circle cx="374.09" cy="480.41" r="1.25"/><circle cx="374.09" cy="478.23" r="1.25"/><line x1="391.59" y1="569.86" x2="391.59" y2="510.95" stroke="#555555" stroke-width="0.8"/><line x1="391.59" y1="609.14" x2="391.59" y2="652.77" stroke="#555555" stroke-width="0.8"/><line x1="388.09" y1="510.95" x2="395.09" y2="510.95" stroke="#555555" stroke-width="0.8"/><line x1="388.09" y1="652.77" x2="395.09" y2="652.77" stroke="#555555" stroke-width="0.8"/><rect x="384.59" y="569.86" width="14.00" height="39.27" fill="#e99675" stroke="#555555" stroke-width="0.8"/><line x1="384.59" y1="593.86" x2="398.59" y2="593.86" stroke="#555555" stroke-width="0.8"/><circle cx="391.59" cy="508.77" r="1.25"/><circle cx="391.59" cy="506.59" r="1.25"/><circle cx="391.59" cy="504.41" r="1.25"/><circle cx="391.59" cy="502.23" r="1.25"/><circle cx="391.59" cy="500.05" r="1.25"/><circle cx="391.59" cy="497.86" r="1.25"/><circle cx="391.59" cy="495.68" r="1.25"/><circle cx="391.59" cy="493.50" r="1.25"/><circle cx="391.59" cy="491.32" r="1.25"/><circle cx="391.59" cy="489.14" r="1.25"/><circle cx="391.59" cy="486.95" r="1.25"/><circle cx="391.59" cy="482.59" r="1.25"/><circle cx="391.59" cy="480.41" r="1.25"/><circle cx="391.59" cy="478.23" r="1.25"/><line x1="409.09" y1="587.32" x2="409.09" y2="534.95" stroke="#555555" stroke-width="0.8"/><line x1="409.09" y1="624.41" x2="409.09" y2="652.77" stroke="#555555" stroke-width="0.8"/><line x1="405.59" y1="534.95" x2="412.59" y2="534.95" stroke="#555555" stroke-width="0.8"/><line x1="405.59" y1="652.77" x2="412.59" y2="652.77" stroke="#555555" stroke-width="0.8"/><rect x="402.09" y="587.32" width="14.00" height="37.09" fill="#95a3c3" stroke="#555555" stroke-width="0.8"/><line x1="402.09" y1="606.95" x2="416.09" y2="606.95" stroke="#555555" stroke-width="0.8"/><circle cx="409.09" cy="526.23" r="1.25"/><circle cx="409.09" cy="518.59" r="1.25"/><circle cx="409.09" cy="510.95" r="1.25"/><circle cx="409.09" cy="500.05" r="1.25"/><circle cx="409.09" cy="493.50" r="1.25"/><circle cx="409.09" cy="478.23" r="1.25"/></g>
<rect x="365.34" y="469.50" width="52.50" height="192.00" fill="none" stroke="#444444" stroke-width="1.0"/>
<line x1="362.34" y1="652.77" x2="365.34" y2="652.77" stroke="#444444" stroke-width="0.9"/>
<text x="0" y="0" font-size="20.0" text-anchor="end" fill="#1a1a1a" stroke="#1a1a1a" stroke-width="0.522" textLength="21.02" lengthAdjust="spacingAndGlyphs" transform="translate(361.14,655.77) scale(0.3450)" >20</text>
<line x1="362.34" y1="630.95" x2="365.34" y2="630.95" stroke="#444444" stroke-width="0.9"/>
<text x="0" y="0" font-size="20.0" text-anchor="end" fill="#1a1a1a" stroke="#1a1a1a" stroke-width="0.522" textLength="21.02" lengthAdjust="spacingAndGlyphs" transform="translate(361.14,633.95) scale(0.3450)" >30</text>
<line x1="362.34" y1="609.14" x2="365.34" y2="609.14" stroke="#444444" stroke-width="0.9"/>
<text x="0" y="0" font-size="20.0" text-anchor="end" fill="#1a1a1a" stroke="#1a1a1a" stroke-width="0.522" textLength="21.02" lengthAdjust="spacingAndGlyphs" transform="translate(361.14,612.14) scale(0.3450)" >40</text>
<line x1="362.34" y1="587.32" x2="365.34" y2="587.32" stroke="#444444" stroke-width="0.9"/>
<text x="0" y="0" font-size="20.0" text-anchor="end" fill="#1a1a1a" stroke="#1a1a1a" stroke-width="0.522" textLength="21.02" lengthAdjust="spacingAndGlyphs" transform="translate(361.14,590.32) scale(0.3450)" >50</text>
<line x1="362.34" y1="565.50" x2="365.34" y2="565.50" stroke="#444444" stroke-width="0.9"/>
<text x="0" y="0" font-size="20.0" text-anchor="end" fill="#1a1a1a" stroke="#1a1a1a" stroke-width="0.522" textLength="21.02" lengthAdjust="spacingAndGlyphs" transform="translate(361.14,568.50) scale(0.3450)" >60</text>
<line x1="362.34" y1="543.68" x2="365.34" y2="543.68" stroke="#444444" stroke-width="0.9"/>
<text x="0" y="0" font-size="20.0" text-anchor="end" fill="#1a1a1a" stroke="#1a1a1a" stroke-width="0.522" textLength="21.02" lengthAdjust="spacingAndGlyphs" transform="translate(361.14,546.68) scale(0.3450)" >70</text>
<line x1="362.34" y1="521.86" x2="365.34" y2="521.86" stroke="#444444" stroke-width="0.9"/>
<text x="0" y="0" font-size="20.0" text-anchor="end" fill="#1a1a1a" stroke="#1a1a1a" stroke-width="0.522" textLength="21.02" lengthAdjust="spacingAndGlyphs" transform="translate(361.14,524.86) scale(0.3450)" >80</text>
<line x1="362.34" y1="500.05" x2="365.34" y2="500.05" stroke="#444444" stroke-width="0.9"/>
<text x="0" y="0" font-size="20.0" text-anchor="end" fill="#1a1a1a" stroke="#1a1a1a" stroke-width="0.522" textLength="21.02" lengthAdjust="spacingAndGlyphs" transform="translate(361.14,503.05) scale(0.3450)" >90</text>
<line x1="362.34" y1="478.23" x2="365.34" y2="478.23" stroke="#444444" stroke-width="0.9"/>
<text x="0" y="0" font-size="20.0" text-anchor="end" fill="#1a1a1a" stroke="#1a1a1a" stroke-width="0.522" textLength="31.54" lengthAdjust="spacingAndGlyphs" transform="translate(361.14,481.23) scale(0.3450)" >100</text>
<line x1="374.09" y1="661.50" x2="374.09" y2="664.30" stroke="#444444" stroke-width="0.9"/>
<text x="0" y="0" font-size="20.0" text-anchor="end" fill="#1a1a1a" stroke="#1a1a1a" stroke-width="0.353" textLength="75.11" lengthAdjust="spacingAndGlyphs" transform="translate(384.42,670.10) rotate(-45) scale(0.3400)" >Low-Risk</text>
<line x1="391.59" y1="661.50" x2="391.59" y2="664.30" stroke="#444444" stroke-width="0.9"/>
<text x="0" y="0" font-size="20.0" text-anchor="end" fill="#1a1a1a" stroke="#1a1a1a" stroke-width="0.353" textLength="109.93" lengthAdjust="spacingAndGlyphs" transform="translate(406.10,670.10) rotate(-45) scale(0.3400)" >Mediate-Risk</text>
<line x1="409.09" y1="661.50" x2="409.09" y2="664.30" stroke="#444444" stroke-width="0.9"/>
<text x="0" y="0" font-size="20.0" text-anchor="end" fill="#1a1a1a" stroke="#1a1a1a" stroke-width="0.353" textLength="80.72" lengthAdjust="spacingAndGlyphs" transform="translate(420.09,670.10) rotate(-45) scale(0.3400)" >High-Risk</text>
<text x="0" y="0" font-size="20.0" text-anchor="middle" fill="#1a1a1a" stroke="#1a1a1a" stroke-width="0.256" textLength="38.12" lengthAdjust="spacingAndGlyphs" transform="translate(391.59,466.10) scale(0.3900)" >HDL</text>
<text x="0" y="0" font-size="20.0" text-anchor="middle" fill="#1a1a1a" stroke="#1a1a1a" stroke-width="0.467" textLength="126.30" lengthAdjust="spacingAndGlyphs" transform="translate(345.16,565.50) rotate(-90) scale(0.3000)" >HDL (mg/dL)</text>
<g fill="#262626"><line x1="459.80" y1="598.77" x2="459.80" y2="565.02" stroke="#555555" stroke-width="0.8"/><line x1="459.80" y1="620.47" x2="459.80" y2="651.81" stroke="#555555" stroke-width="0.8"/><line x1="456.30" y1="565.02" x2="463.30" y2="565.02" stroke="#555555" stroke-width="0.8"/><line x1="456.30" y1="651.81" x2="463.30" y2="651.81" stroke="#555555" stroke-width="0.8"/><rect x="452.80" y="598.77" width="14.00" height="21.70" fill="#72b6a1" stroke="#555555" stroke-width="0.8"/><line x1="452.80" y1="609.86" x2="466.80" y2="609.86" stroke="#555555" stroke-width="0.8"/><circle cx="459.80" cy="564.05" r="1.25"/><circle cx="459.80" cy="562.19" r="1.25"/><circle cx="459.80" cy="560.32" r="1.25"/><circle cx="459.80" cy="558.45" r="1.25"/><circle cx="459.80" cy="556.58" r="1.25"/><circle cx="459.80" cy="554.71" r="1.25"/><circle cx="459.80" cy="552.84" r="1.25"/><circle cx="459.80" cy="550.97" r="1.25"/><circle cx="459.80" cy="549.11" r="1.25"/><circle cx="459.80" cy="544.28" r="1.25"/><circle cx="459.80" cy="541.87" r="1.25"/><circle cx="459.80" cy="538.50" r="1.25"/><circle cx="459.80" cy="522.59" r="1.25"/><circle cx="459.80" cy="515.35" r="1.25"/><circle cx="459.80" cy="507.64" r="1.25"/><circle cx="459.80" cy="478.23" r="1.25"/><line x1="477.30" y1="599.25" x2="477.30" y2="557.79" stroke="#555555" stroke-width="0.8"/><line x1="477.30" y1="626.74" x2="477.30" y2="652.77" stroke="#555555" stroke-width="0.8"/><line x1="473.80" y1="557.79" x2="480.80" y2="557.79" stroke="#555555" stroke-width="0.8"/><line x1="473.80" y1="652.77" x2="480.80" y2="652.77" stroke="#555555" stroke-width="0.8"/><rect x="470.30" y="599.25" width="14.00" height="27.48" fill="#e99675" stroke="#555555" stroke-width="0.8"/><line x1="470.30" y1="612.75" x2="484.30" y2="612.75" stroke="#555555" stroke-width="0.8"/><circle cx="477.30" cy="556.34" r="1.25"/><circle cx="477.30" cy="554.73" r="1.25"/><circle cx="477.30" cy="553.12" r="1.25"/><circle cx="477.30" cy="551.52" r="1.25"/><circle cx="477.30" cy="540.91" r="1.25"/><circle cx="477.30" cy="537.05" r="1.25"/><circle cx="477.30" cy="521.62" r="1.25"/><circle cx="477.30" cy="505.71" r="1.25"/><circle cx="477.30" cy="503.30" r="1.25"/><line x1="494.80" y1="614.68" x2="494.80" y2="584.30" stroke="#555555" stroke-width="0.8"/><line x1="494.80" y1="635.90" x2="494.80" y2="652.77" stroke="#555555" stroke-width="0.8"/><line x1="491.30" y1="584.30" x2="498.30" y2="584.30" stroke="#555555" stroke-width="0.8"/><line x1="491.30" y1="652.77" x2="498.30" y2="652.77" stroke="#555555" stroke-width="0.8"/><rect x="487.80" y="614.68" width="14.00" height="21.22" fill="#95a3c3" stroke="#555555" stroke-width="0.8"/><line x1="487.80" y1="625.29" x2="501.80" y2="625.29" stroke="#555555" stroke-width="0.8"/><circle cx="494.80" cy="579.00" r="1.25"/><circle cx="494.80" cy="577.07" r="1.25"/><circle cx="494.80" cy="575.14" r="1.25"/><circle cx="494.80" cy="573.21" r="1.25"/><circle cx="494.80" cy="571.29" r="1.25"/><circle cx="494.80" cy="569.36" r="1.25"/><circle cx="494.80" cy="562.12" r="1.25"/></g>
<rect x="451.05" y="469.50" width="52.50" height="192.00" fill="none" stroke="#444444" stroke-width="1.0"/>
<line x1="448.05" y1="643.13" x2="451.05" y2="643.13" stroke="#444444" stroke-width="0.9"/>
<text x="0" y="0" font-size="20.0" text-anchor="end" fill="#1a1a1a" stroke="#1a1a1a" stroke-width="0.522" textLength="21.02" lengthAdjust="spacingAndGlyphs" transform="translate(446.85,646.13) scale(0.3450)" >50</text>
<line x1="448.05" y1="619.02" x2="451.05" y2="619.02" stroke="#444444" stroke-width="0.9"/>
<text x="0" y="0" font-size="20.0" text-anchor="end" fill="#1a1a1a" stroke="#1a1a1a" stroke-width="0.522" textLength="31.54" lengthAdjust="spacingAndGlyphs" transform="translate(446.85,622.02) scale(0.3450)" >100</text>
<line x1="448.05" y1="594.91" x2="451.05" y2="594.91" stroke="#444444" stroke-width="0.9"/>
<text x="0" y="0" font-size="20.0" text-anchor="end" fill="#1a1a1a" stroke="#1a1a1a" stroke-width="0.522" textLength="31.54" lengthAdjust="spacingAndGlyphs" transform="translate(446.85,597.91) scale(0.3450)" >150</text>
<line x1="448.05" y1="570.80" x2="451.05" y2="570.80" stroke="#444444" stroke-width="0.9"/>
<text x="0" y="0" font-size="20.0" text-anchor="end" fill="#1a1a1a" stroke="#1a1a1a" stroke-width="0.522" textLength="31.54" lengthAdjust="spacingAndGlyphs" transform="translate(446.85,573.80) scale(0.3450)" >200</text>
<line x1="448.05" y1="546.70" x2="451.05" y2="546.70" stroke="#444444" stroke-width="0.9"/>
<text x="0" y="0" font-size="20.0" text-anchor="end" fill="#1a1a1a" stroke="#1a1a1a" stroke-width="0.522" textLength="31.54" lengthAdjust="spacingAndGlyphs" transform="translate(446.85,549.70) scale(0.3450)" >250</text>
<line x1="448.05" y1="522.59" x2="451.05" y2="522.59" stroke="#444444" stroke-width="0.9"/>
<text x="0" y="0" font-size="20.0" text-anchor="end" fill="#1a1a1a" stroke="#1a1a1a" stroke-width="0.522" textLength="31.54" lengthAdjust="spacingAndGlyphs" transform="translate(446.85,525.59) scale(0.3450)" >300</text>
<line x1="448.05" y1="498.48" x2="451.05" y2="498.48" stroke="#444444" stroke-width="0.9"/>
<text x="0" y="0" font-size="20.0" text-anchor="end" fill="#1a1a1a" stroke="#1a1a1a" stroke-width="0.522" textLength="31.54" lengthAdjust="spacingAndGlyphs" transform="translate(446.85,501.48) scale(0.3450)" >350</text>
<line x1="448.05" y1="474.37" x2="451.05" y2="474.37" stroke="#444444" stroke-width="0.9"/>
<text x="0" y="0" font-size="20.0" text-anchor="end" fill="#1a1a1a" stroke="#1a1a1a" stroke-width="0.522" textLength="31.54" lengthAdjust="spacingAndGlyphs" transform="translate(446.85,477.37) scale(0.3450)" >400</text>
<line x1="459.80" y1="661.50" x2="459.80" y2="664.30" stroke="#444444" stroke-width="0.9"/>
<text x="0" y="0" font-size="20.0" text-anchor="end" fill="#1a1a1a" stroke="#1a1a1a" stroke-width="0.353" textLength="75.11" lengthAdjust="spacingAndGlyphs" transform="translate(470.13,670.10) rotate(-45) scale(0.3400)" >Low-Risk</text>
<line x1="477.30" y1="661.50" x2="477.30" y2="664.30" stroke="#444444" stroke-width="0.9"/>
<text x="0" y="0" font-size="20.0" text-anchor="end" fill="#1a1a1a" stroke="#1a1a1a" stroke-width="0.353" textLength="109.93" lengthAdjust="spacingAndGlyphs" transform="translate(491.81,670.10) rotate(-45) scale(0.3400)" >Mediate-Risk</text>
<line x1="494.80" y1="661.50" x2="494.80" y2="664.30" stroke="#444444" stroke-width="0.9"/>
<text x="0" y="0" font-size="20.0" text-anchor="end" fill="#1a1a1a" stroke="#1a1a1a" stroke-width="0.353" textLength="80.72" lengthAdjust="spacingAndGlyphs" transform="translate(505.80,670.10) rotate(-45) scale(0.3400)" >High-Risk</text>
<text x="0" y="0" font-size="20.0" text-anchor="middle" fill="#1a1a1a" stroke="#1a1a1a" stroke-width="0.256" textLength="34.54" lengthAdjust="spacingAndGlyphs" transform="translate(477.30,466.10) scale(0.3900)" >LDL</text>
<text x="0" y="0" font-size="20.0" text-anchor="middle" fill="#1a1a1a" stroke="#1a1a1a" stroke-width="0.467" textLength="122.40" lengthAdjust="spacingAndGlyphs" transform="translate(430.87,565.50) rotate(-90) scale(0.3000)" >LDL (mg/dL)</text>
<g fill="#262626"><line x1="545.51" y1="555.68" x2="545.51" y2="519.68" stroke="#555555" stroke-width="0.8"/><line x1="545.51" y1="579.68" x2="545.51" y2="615.68" stroke="#555555" stroke-width="0.8"/><line x1="542.01" y1="519.68" x2="549.01" y2="519.68" stroke="#555555" stroke-width="0.8"/><line x1="542.01" y1="615.68" x2="549.01" y2="615.68" stroke="#555555" stroke-width="0.8"/><rect x="538.51" y="555.68" width="14.00" height="24.00" fill="#72b6a1" stroke="#555555" stroke-width="0.8"/><line x1="538.51" y1="565.50" x2="552.51" y2="565.50" stroke="#555555" stroke-width="0.8"/><circle cx="545.51" cy="517.50" r="1.25"/><circle cx="545.51" cy="515.32" r="1.25"/><circle cx="545.51" cy="513.14" r="1.25"/><circle cx="545.51" cy="510.95" r="1.25"/><circle cx="545.51" cy="508.77" r="1.25"/><circle cx="545.51" cy="506.59" r="1.25"/><circle cx="545.51" cy="504.41" r="1.25"/><circle cx="545.51" cy="500.05" r="1.25"/><circle cx="545.51" cy="497.86" r="1.25"/><circle cx="545.51" cy="493.50" r="1.25"/><circle cx="545.51" cy="478.23" r="1.25"/><circle cx="545.51" cy="620.05" r="1.25"/><circle cx="545.51" cy="622.23" r="1.25"/><circle cx="545.51" cy="624.41" r="1.25"/><circle cx="545.51" cy="626.59" r="1.25"/><circle cx="545.51" cy="630.95" r="1.25"/><circle cx="545.51" cy="652.77" r="1.25"/><line x1="563.01" y1="548.05" x2="563.01" y2="502.23" stroke="#555555" stroke-width="0.8"/><line x1="563.01" y1="578.59" x2="563.01" y2="622.23" stroke="#555555" stroke-width="0.8"/><line x1="559.51" y1="502.23" x2="566.51" y2="502.23" stroke="#555555" stroke-width="0.8"/><line x1="559.51" y1="622.23" x2="566.51" y2="622.23" stroke="#555555" stroke-width="0.8"/><rect x="556.01" y="548.05" width="14.00" height="30.55" fill="#e99675" stroke="#555555" stroke-width="0.8"/><line x1="556.01" y1="562.23" x2="570.01" y2="562.23" stroke="#555555" stroke-width="0.8"/><circle cx="563.01" cy="500.05" r="1.25"/><circle cx="563.01" cy="497.86" r="1.25"/><circle cx="563.01" cy="495.68" r="1.25"/><circle cx="563.01" cy="493.50" r="1.25"/><circle cx="563.01" cy="491.32" r="1.25"/><circle cx="563.01" cy="489.14" r="1.25"/><circle cx="563.01" cy="486.95" r="1.25"/><circle cx="563.01" cy="484.77" r="1.25"/><circle cx="563.01" cy="482.59" r="1.25"/><circle cx="563.01" cy="480.41" r="1.25"/><circle cx="563.01" cy="478.23" r="1.25"/><circle cx="563.01" cy="626.59" r="1.25"/><circle cx="563.01" cy="635.32" r="1.25"/><circle cx="563.01" cy="637.50" r="1.25"/><circle cx="563.01" cy="639.68" r="1.25"/><circle cx="563.01" cy="652.77" r="1.25"/><line x1="580.51" y1="548.05" x2="580.51" y2="493.50" stroke="#555555" stroke-width="0.8"/><line x1="580.51" y1="584.05" x2="580.51" y2="630.95" stroke="#555555" stroke-width="0.8"/><line x1="577.01" y1="493.50" x2="584.01" y2="493.50" stroke="#555555" stroke-width="0.8"/><line x1="577.01" y1="630.95" x2="584.01" y2="630.95" stroke="#555555" stroke-width="0.8"/><rect x="573.51" y="548.05" width="14.00" height="36.00" fill="#95a3c3" stroke="#555555" stroke-width="0.8"/><line x1="573.51" y1="566.59" x2="587.51" y2="566.59" stroke="#555555" stroke-width="0.8"/><circle cx="580.51" cy="486.95" r="1.25"/><circle cx="580.51" cy="480.41" r="1.25"/><circle cx="580.51" cy="478.23" r="1.25"/><circle cx="580.51" cy="652.77" r="1.25"/></g>
<rect x="536.76" y="469.50" width="52.50" height="192.00" fill="none" stroke="#444444" stroke-width="1.0"/>
<line x1="533.76" y1="652.77" x2="536.76" y2="652.77" stroke="#444444" stroke-width="0.9"/>
<text x="0" y="0" font-size="20.0" text-anchor="end" fill="#1a1a1a" stroke="#1a1a1a" stroke-width="0.522" textLength="21.02" lengthAdjust="spacingAndGlyphs" transform="translate(532.56,655.77) scale(0.3450)" >40</text>
<line x1="533.76" y1="630.95" x2="536.76" y2="630.95" stroke="#444444" stroke-width="0.9"/>
<text x="0" y="0" font-size="20.0" text-anchor="end" fill="#1a1a1a" stroke="#1a1a1a" stroke-width="0.522" textLength="21.02" lengthAdjust="spacingAndGlyphs" transform="translate(532.56,633.95) scale(0.3450)" >50</text>
<line x1="533.76" y1="609.14" x2="536.76" y2="609.14" stroke="#444444" stroke-width="0.9"/>
<text x="0" y="0" font-size="20.0" text-anchor="end" fill="#1a1a1a" stroke="#1a1a1a" stroke-width="0.522" textLength="21.02" lengthAdjust="spacingAndGlyphs" transform="translate(532.56,612.14) scale(0.3450)" >60</text>
<line x1="533.76" y1="587.32" x2="536.76" y2="587.32" stroke="#444444" stroke-width="0.9"/>
<text x="0" y="0" font-size="20.0" text-anchor="end" fill="#1a1a1a" stroke="#1a1a1a" stroke-width="0.522" textLength="21.02" lengthAdjust="spacingAndGlyphs" transform="translate(532.56,590.32) scale(0.3450)" >70</text>
<line x1="533.76" y1="565.50" x2="536.76" y2="565.50" stroke="#444444" stroke-width="0.9"/>
<text x="0" y="0" font-size="20.0" text-anchor="end" fill="#1a1a1a" stroke="#1a1a1a" stroke-width="0.522" textLength="21.02" lengthAdjust="spacingAndGlyphs" transform="translate(532.56,568.50) scale(0.3450)" >80</text>
<line x1="533.76" y1="543.68" x2="536.76" y2="543.68" stroke="#444444" stroke-width="0.9"/>
<text x="0" y="0" font-size="20.0" text-anchor="end" fill="#1a1a1a" stroke="#1a1a1a" stroke-width="0.522" textLength="21.02" lengthAdjust="spacingAndGlyphs" transform="translate(532.56,546.68) scale(0.3450)" >90</text>
<line x1="533.76" y1="521.86" x2="536.76" y2="521.86" stroke="#444444" stroke-width="0.9"/>
<text x="0" y="0" font-size="20.0" text-anchor="end" fill="#1a1a1a" stroke="#1a1a1a" stroke-width="0.522" textLength="31.54" lengthAdjust="spacingAndGlyphs" transform="translate(532.56,524.86) scale(0.3450)" >100</text>
<line x1="533.76" y1="500.05" x2="536.76" y2="500.05" stroke="#444444" stroke-width="0.9"/>
<text x="0" y="0" font-size="20.0" text-anchor="end" fill="#1a1a1a" stroke="#1a1a1a" stroke-width="0.522" textLength="31.54" lengthAdjust="spacingAndGlyphs" transform="translate(532.56,503.05) scale(0.3450)" >110</text>
<line x1="533.76" y1="478.23" x2="536.76" y2="478.23" stroke="#444444" stroke-width="0.9"/>
<text x="0" y="0" font-size="20.0" text-anchor="end" fill="#1a1a1a" stroke="#1a1a1a" stroke-width="0.522" textLength="31.54" lengthAdjust="spacingAndGlyphs" transform="translate(532.56,481.23) scale(0.3450)" >120</text>
<line x1="545.51" y1="661.50" x2="545.51" y2="664.30" stroke="#444444" stroke-width="0.9"/>
<text x="0" y="0" font-size="20.0" text-anchor="end" fill="#1a1a1a" stroke="#1a1a1a" stroke-width="0.353" textLength="75.11" lengthAdjust="spacingAndGlyphs" transform="translate(555.84,670.10) rotate(-45) scale(0.3400)" >Low-Risk</text>
<line x1="563.01" y1="661.50" x2="563.01" y2="664.30" stroke="#444444" stroke-width="0.9"/>
<text x="0" y="0" font-size="20.0" text-anchor="end" fill="#1a1a1a" stroke="#1a1a1a" stroke-width="0.353" textLength="109.93" lengthAdjust="spacingAndGlyphs" transform="translate(577.52,670.10) rotate(-45) scale(0.3400)" >Mediate-Risk</text>
<line x1="580.51" y1="661.50" x2="580.51" y2="664.30" stroke="#444444" stroke-width="0.9"/>
<text x="0" y="0" font-size="20.0" text-anchor="end" fill="#1a1a1a" stroke="#1a1a1a" stroke-width="0.353" textLength="80.72" lengthAdjust="spacingAndGlyphs" transform="translate(591.51,670.10) rotate(-45) scale(0.3400)" >High-Risk</text>
<text x="0" y="0" font-size="20.0" text-anchor="middle" fill="#1a1a1a" stroke="#1a1a1a" stroke-width="0.256" textLength="37.75" lengthAdjust="spacingAndGlyphs" transform="translate(563.01,466.10) scale(0.3900)" >DBP</text>
<text x="0" y="0" font-size="20.0" text-anchor="middle" fill="#1a1a1a" stroke="#1a1a1a" stroke-width="0.467" textLength="129.84" lengthAdjust="spacingAndGlyphs" transform="translate(516.58,565.50) rotate(-90) scale(0.3000)" >DBP (mmHg)</text>
<g fill="#262626"><line x1="631.22" y1="586.73" x2="631.22" y2="554.89" stroke="#555555" stroke-width="0.8"/><line x1="631.22" y1="607.96" x2="631.22" y2="638.62" stroke="#555555" stroke-width="0.8"/><line x1="627.72" y1="554.89" x2="634.72" y2="554.89" stroke="#555555" stroke-width="0.8"/><line x1="627.72" y1="638.62" x2="634.72" y2="638.62" stroke="#555555" stroke-width="0.8"/><rect x="624.22" y="586.73" width="14.00" height="21.23" fill="#72b6a1" stroke="#555555" stroke-width="0.8"/><line x1="624.22" y1="598.52" x2="638.22" y2="598.52" stroke="#555555" stroke-width="0.8"/><circle cx="631.22" cy="552.53" r="1.25"/><circle cx="631.22" cy="550.72" r="1.25"/><circle cx="631.22" cy="543.51" r="1.25"/><circle cx="631.22" cy="541.70" r="1.25"/><circle cx="631.22" cy="539.90" r="1.25"/><circle cx="631.22" cy="538.10" r="1.25"/><circle cx="631.22" cy="536.29" r="1.25"/><circle cx="631.22" cy="534.49" r="1.25"/><circle cx="631.22" cy="532.69" r="1.25"/><circle cx="631.22" cy="530.88" r="1.25"/><circle cx="631.22" cy="529.08" r="1.25"/><circle cx="631.22" cy="525.47" r="1.25"/><circle cx="631.22" cy="523.67" r="1.25"/><circle cx="631.22" cy="521.86" r="1.25"/><circle cx="631.22" cy="512.43" r="1.25"/><circle cx="631.22" cy="642.16" r="1.25"/><circle cx="631.22" cy="643.34" r="1.25"/><line x1="648.72" y1="574.93" x2="648.72" y2="531.30" stroke="#555555" stroke-width="0.8"/><line x1="648.72" y1="603.24" x2="648.72" y2="643.34" stroke="#555555" stroke-width="0.8"/><line x1="645.22" y1="531.30" x2="652.22" y2="531.30" stroke="#555555" stroke-width="0.8"/><line x1="645.22" y1="643.34" x2="652.22" y2="643.34" stroke="#555555" stroke-width="0.8"/><rect x="641.72" y="574.93" width="14.00" height="28.30" fill="#e99675" stroke="#555555" stroke-width="0.8"/><line x1="641.72" y1="591.45" x2="655.72" y2="591.45" stroke="#555555" stroke-width="0.8"/><circle cx="648.72" cy="530.12" r="1.25"/><circle cx="648.72" cy="528.35" r="1.25"/><circle cx="648.72" cy="526.58" r="1.25"/><circle cx="648.72" cy="524.81" r="1.25"/><circle cx="648.72" cy="523.04" r="1.25"/><circle cx="648.72" cy="521.27" r="1.25"/><circle cx="648.72" cy="519.50" r="1.25"/><circle cx="648.72" cy="517.74" r="1.25"/><circle cx="648.72" cy="515.97" r="1.25"/><circle cx="648.72" cy="514.20" r="1.25"/><circle cx="648.72" cy="512.43" r="1.25"/><circle cx="648.72" cy="510.66" r="1.25"/><circle cx="648.72" cy="508.89" r="1.25"/><circle cx="648.72" cy="507.12" r="1.25"/><circle cx="648.72" cy="505.35" r="1.25"/><circle cx="648.72" cy="500.64" r="1.25"/><circle cx="648.72" cy="497.10" r="1.25"/><circle cx="648.72" cy="494.74" r="1.25"/><circle cx="648.72" cy="492.38" r="1.25"/><circle cx="648.72" cy="490.02" r="1.25"/><circle cx="648.72" cy="487.66" r="1.25"/><circle cx="648.72" cy="478.23" r="1.25"/><circle cx="648.72" cy="652.77" r="1.25"/><line x1="666.22" y1="565.50" x2="666.22" y2="513.61" stroke="#555555" stroke-width="0.8"/><line x1="666.22" y1="600.88" x2="666.22" y2="642.16" stroke="#555555" stroke-width="0.8"/><line x1="662.72" y1="513.61" x2="669.72" y2="513.61" stroke="#555555" stroke-width="0.8"/><line x1="662.72" y1="642.16" x2="669.72" y2="642.16" stroke="#555555" stroke-width="0.8"/><rect x="659.22" y="565.50" width="14.00" height="35.38" fill="#95a3c3" stroke="#555555" stroke-width="0.8"/><line x1="659.22" y1="584.37" x2="673.22" y2="584.37" stroke="#555555" stroke-width="0.8"/><circle cx="666.22" cy="511.25" r="1.25"/><circle cx="666.22" cy="510.07" r="1.25"/><circle cx="666.22" cy="508.89" r="1.25"/><circle cx="666.22" cy="507.71" r="1.25"/><circle cx="666.22" cy="504.17" r="1.25"/><circle cx="666.22" cy="498.28" r="1.25"/><circle cx="666.22" cy="487.66" r="1.25"/><circle cx="666.22" cy="485.30" r="1.25"/></g>
<rect x="622.47" y="469.50" width="52.50" height="192.00" fill="none" stroke="#444444" stroke-width="1.0"/>
<line x1="619.47" y1="652.77" x2="622.47" y2="652.77" stroke="#444444" stroke-width="0.9"/>
<text x="0" y="0" font-size="20.0" text-anchor="end" fill="#1a1a1a" stroke="#1a1a1a" stroke-width="0.522" textLength="21.02" lengthAdjust="spacingAndGlyphs" transform="translate(618.27,655.77) scale(0.3450)" >80</text>
<line x1="619.47" y1="629.19" x2="622.47" y2="629.19" stroke="#444444" stroke-width="0.9"/>
<text x="0" y="0" font-size="20.0" text-anchor="end" fill="#1a1a1a" stroke="#1a1a1a" stroke-width="0.522" textLength="31.54" lengthAdjust="spacingAndGlyphs" transform="translate(618.27,632.19) scale(0.3450)" >100</text>
<line x1="619.47" y1="605.60" x2="622.47" y2="605.60" stroke="#444444" stroke-width="0.9"/>
<text x="0" y="0" font-size="20.0" text-anchor="end" fill="#1a1a1a" stroke="#1a1a1a" stroke-width="0.522" textLength="31.54" lengthAdjust="spacingAndGlyphs" transform="translate(618.27,608.60) scale(0.3450)" >120</text>
<line x1="619.47" y1="582.01" x2="622.47" y2="582.01" stroke="#444444" stroke-width="0.9"/>
<text x="0" y="0" font-size="20.0" text-anchor="end" fill="#1a1a1a" stroke="#1a1a1a" stroke-width="0.522" textLength="31.54" lengthAdjust="spacingAndGlyphs" transform="translate(618.27,585.01) scale(0.3450)" >140</text>
<line x1="619.47" y1="558.42" x2="622.47" y2="558.42" stroke="#444444" stroke-width="0.9"/>
<text x="0" y="0" font-size="20.0" text-anchor="end" fill="#1a1a1a" stroke="#1a1a1a" stroke-width="0.522" textLength="31.54" lengthAdjust="spacingAndGlyphs" transform="translate(618.27,561.42) scale(0.3450)" >160</text>
<line x1="619.47" y1="534.84" x2="622.47" y2="534.84" stroke="#444444" stroke-width="0.9"/>
<text x="0" y="0" font-size="20.0" text-anchor="end" fill="#1a1a1a" stroke="#1a1a1a" stroke-width="0.522" textLength="31.54" lengthAdjust="spacingAndGlyphs" transform="translate(618.27,537.84) scale(0.3450)" >180</text>
<line x1="619.47" y1="511.25" x2="622.47" y2="511.25" stroke="#444444" stroke-width="0.9"/>
<text x="0" y="0" font-size="20.0" text-anchor="end" fill="#1a1a1a" stroke="#1a1a1a" stroke-width="0.522" textLength="31.54" lengthAdjust="spacingAndGlyphs" transform="translate(618.27,514.25) scale(0.3450)" >200</text>
<line x1="619.47" y1="487.66" x2="622.47" y2="487.66" stroke="#444444" stroke-width="0.9"/>
<text x="0" y="0" font-size="20.0" text-anchor="end" fill="#1a1a1a" stroke="#1a1a1a" stroke-width="0.522" textLength="31.54" lengthAdjust="spacingAndGlyphs" transform="translate(618.27,490.66) scale(0.3450)" >220</text>
<line x1="631.22" y1="661.50" x2="631.22" y2="664.30" stroke="#444444" stroke-width="0.9"/>
<text x="0" y="0" font-size="20.0" text-anchor="end" fill="#1a1a1a" stroke="#1a1a1a" stroke-width="0.353" textLength="75.11" lengthAdjust="spacingAndGlyphs" transform="translate(641.55,670.10) rotate(-45) scale(0.3400)" >Low-Risk</text>
<line x1="648.72" y1="661.50" x2="648.72" y2="664.30" stroke="#444444" stroke-width="0.9"/>
<text x="0" y="0" font-size="20.0" text-anchor="end" fill="#1a1a1a" stroke="#1a1a1a" stroke-width="0.353" textLength="109.93" lengthAdjust="spacingAndGlyphs" transform="translate(663.23,670.10) rotate(-45) scale(0.3400)" >Mediate-Risk</text>
<line x1="666.22" y1="661.50" x2="666.22" y2="664.30" stroke="#444444" stroke-width="0.9"/>
<text x="0" y="0" font-size="20.0" text-anchor="end" fill="#1a1a1a" stroke="#1a1a1a" stroke-width="0.353" textLength="80.72" lengthAdjust="spacingAndGlyphs" transform="translate(677.22,670.10) rotate(-45) scale(0.3400)" >High-Risk</text>
<text x="0" y="0" font-size="20.0" text-anchor="middle" fill="#1a1a1a" stroke="#1a1a1a" stroke-width="0.256" textLength="35.27" lengthAdjust="spacingAndGlyphs" transform="translate(648.72,466.10) scale(0.3900)" >SBP</text>
<text x="0" y="0" font-size="20.0" text-anchor="middle" fill="#1a1a1a" stroke="#1a1a1a" stroke-width="0.467" textLength="127.14" lengthAdjust="spacingAndGlyphs" transform="translate(602.29,565.50) rotate(-90) scale(0.3000)" >SBP (mmHg)</text>
</svg>
</body></html>
